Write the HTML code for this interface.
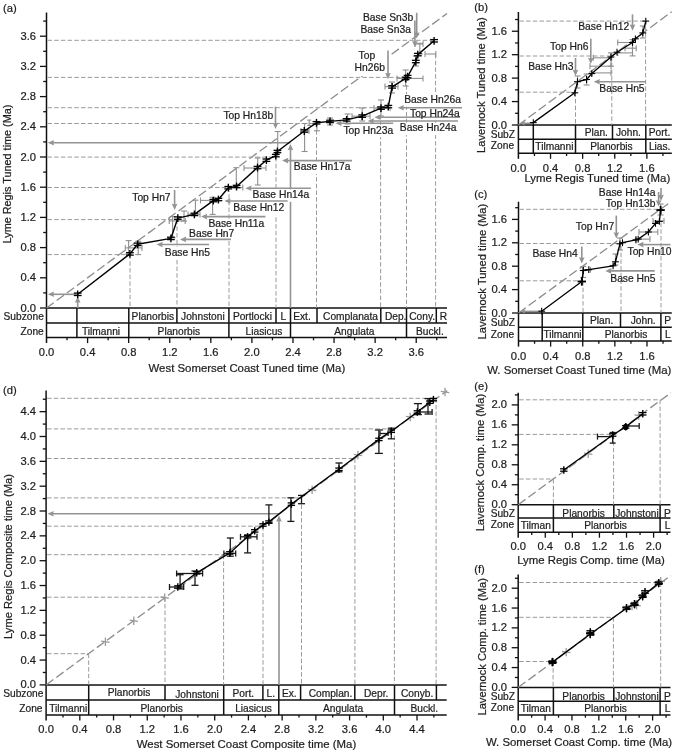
<!DOCTYPE html><html><head><meta charset="utf-8"><style>html,body{margin:0;padding:0;background:#fff;}svg{display:block;font-family:"Liberation Sans",sans-serif;filter:blur(0.3px);}</style></head><body>
<svg width="676" height="752" viewBox="0 0 676 752">
<rect width="676" height="752" fill="#fff"/>
<line x1="46.5" y1="12.4" x2="46.5" y2="343.1" stroke="#111" stroke-width="1.5"/>
<line x1="40" y1="308" x2="46.5" y2="308" stroke="#111" stroke-width="1.3"/>
<text x="36" y="311.5" font-size="11.2" text-anchor="end" fill="#1e1e1e" stroke="#1e1e1e" stroke-width="0.22">0.0</text>
<line x1="43.2" y1="292.9" x2="46.5" y2="292.9" stroke="#111" stroke-width="1.3"/>
<line x1="40" y1="277.8" x2="46.5" y2="277.8" stroke="#111" stroke-width="1.3"/>
<text x="36" y="281.3" font-size="11.2" text-anchor="end" fill="#1e1e1e" stroke="#1e1e1e" stroke-width="0.22">0.4</text>
<line x1="43.2" y1="262.7" x2="46.5" y2="262.7" stroke="#111" stroke-width="1.3"/>
<line x1="40" y1="247.6" x2="46.5" y2="247.6" stroke="#111" stroke-width="1.3"/>
<text x="36" y="251.1" font-size="11.2" text-anchor="end" fill="#1e1e1e" stroke="#1e1e1e" stroke-width="0.22">0.8</text>
<line x1="43.2" y1="232.5" x2="46.5" y2="232.5" stroke="#111" stroke-width="1.3"/>
<line x1="40" y1="217.4" x2="46.5" y2="217.4" stroke="#111" stroke-width="1.3"/>
<text x="36" y="220.9" font-size="11.2" text-anchor="end" fill="#1e1e1e" stroke="#1e1e1e" stroke-width="0.22">1.2</text>
<line x1="43.2" y1="202.3" x2="46.5" y2="202.3" stroke="#111" stroke-width="1.3"/>
<line x1="40" y1="187.2" x2="46.5" y2="187.2" stroke="#111" stroke-width="1.3"/>
<text x="36" y="190.7" font-size="11.2" text-anchor="end" fill="#1e1e1e" stroke="#1e1e1e" stroke-width="0.22">1.6</text>
<line x1="43.2" y1="172.1" x2="46.5" y2="172.1" stroke="#111" stroke-width="1.3"/>
<line x1="40" y1="157" x2="46.5" y2="157" stroke="#111" stroke-width="1.3"/>
<text x="36" y="160.5" font-size="11.2" text-anchor="end" fill="#1e1e1e" stroke="#1e1e1e" stroke-width="0.22">2.0</text>
<line x1="43.2" y1="141.9" x2="46.5" y2="141.9" stroke="#111" stroke-width="1.3"/>
<line x1="40" y1="126.8" x2="46.5" y2="126.8" stroke="#111" stroke-width="1.3"/>
<text x="36" y="130.3" font-size="11.2" text-anchor="end" fill="#1e1e1e" stroke="#1e1e1e" stroke-width="0.22">2.4</text>
<line x1="43.2" y1="111.7" x2="46.5" y2="111.7" stroke="#111" stroke-width="1.3"/>
<line x1="40" y1="96.6" x2="46.5" y2="96.6" stroke="#111" stroke-width="1.3"/>
<text x="36" y="100.1" font-size="11.2" text-anchor="end" fill="#1e1e1e" stroke="#1e1e1e" stroke-width="0.22">2.8</text>
<line x1="43.2" y1="81.5" x2="46.5" y2="81.5" stroke="#111" stroke-width="1.3"/>
<line x1="40" y1="66.4" x2="46.5" y2="66.4" stroke="#111" stroke-width="1.3"/>
<text x="36" y="69.9" font-size="11.2" text-anchor="end" fill="#1e1e1e" stroke="#1e1e1e" stroke-width="0.22">3.2</text>
<line x1="43.2" y1="51.3" x2="46.5" y2="51.3" stroke="#111" stroke-width="1.3"/>
<line x1="40" y1="36.2" x2="46.5" y2="36.2" stroke="#111" stroke-width="1.3"/>
<text x="36" y="39.7" font-size="11.2" text-anchor="end" fill="#1e1e1e" stroke="#1e1e1e" stroke-width="0.22">3.6</text>
<line x1="43.2" y1="21.1" x2="46.5" y2="21.1" stroke="#111" stroke-width="1.3"/>
<line x1="46.5" y1="308" x2="447" y2="308" stroke="#111" stroke-width="1.5"/>
<line x1="46.5" y1="323" x2="447" y2="323" stroke="#111" stroke-width="1.5"/>
<line x1="46.5" y1="337.6" x2="447" y2="337.6" stroke="#111" stroke-width="1.5"/>
<line x1="76.9" y1="308" x2="76.9" y2="337.6" stroke="#111" stroke-width="1.5"/>
<line x1="128.8" y1="308" x2="128.8" y2="337.6" stroke="#111" stroke-width="1.5"/>
<line x1="176.9" y1="308" x2="176.9" y2="323" stroke="#111" stroke-width="1.5"/>
<line x1="228.9" y1="308" x2="228.9" y2="337.6" stroke="#111" stroke-width="1.5"/>
<line x1="276" y1="308" x2="276" y2="323" stroke="#111" stroke-width="1.5"/>
<line x1="290.5" y1="308" x2="290.5" y2="337.6" stroke="#111" stroke-width="1.5"/>
<line x1="317" y1="308" x2="317" y2="323" stroke="#111" stroke-width="1.5"/>
<line x1="380.8" y1="308" x2="380.8" y2="323" stroke="#111" stroke-width="1.5"/>
<line x1="406.5" y1="308" x2="406.5" y2="337.6" stroke="#111" stroke-width="1.5"/>
<line x1="436.3" y1="308" x2="436.3" y2="323" stroke="#111" stroke-width="1.5"/>
<text x="46.5" y="355.9" font-size="11.2" text-anchor="middle" fill="#1e1e1e" stroke="#1e1e1e" stroke-width="0.22">0.0</text>
<line x1="67.04" y1="337.6" x2="67.04" y2="340.3" stroke="#111" stroke-width="1.3"/>
<line x1="87.58" y1="337.6" x2="87.58" y2="343.1" stroke="#111" stroke-width="1.3"/>
<text x="87.58" y="355.9" font-size="11.2" text-anchor="middle" fill="#1e1e1e" stroke="#1e1e1e" stroke-width="0.22">0.4</text>
<line x1="108.12" y1="337.6" x2="108.12" y2="340.3" stroke="#111" stroke-width="1.3"/>
<line x1="128.66" y1="337.6" x2="128.66" y2="343.1" stroke="#111" stroke-width="1.3"/>
<text x="128.66" y="355.9" font-size="11.2" text-anchor="middle" fill="#1e1e1e" stroke="#1e1e1e" stroke-width="0.22">0.8</text>
<line x1="149.2" y1="337.6" x2="149.2" y2="340.3" stroke="#111" stroke-width="1.3"/>
<line x1="169.74" y1="337.6" x2="169.74" y2="343.1" stroke="#111" stroke-width="1.3"/>
<text x="169.74" y="355.9" font-size="11.2" text-anchor="middle" fill="#1e1e1e" stroke="#1e1e1e" stroke-width="0.22">1.2</text>
<line x1="190.28" y1="337.6" x2="190.28" y2="340.3" stroke="#111" stroke-width="1.3"/>
<line x1="210.82" y1="337.6" x2="210.82" y2="343.1" stroke="#111" stroke-width="1.3"/>
<text x="210.82" y="355.9" font-size="11.2" text-anchor="middle" fill="#1e1e1e" stroke="#1e1e1e" stroke-width="0.22">1.6</text>
<line x1="231.36" y1="337.6" x2="231.36" y2="340.3" stroke="#111" stroke-width="1.3"/>
<line x1="251.9" y1="337.6" x2="251.9" y2="343.1" stroke="#111" stroke-width="1.3"/>
<text x="251.9" y="355.9" font-size="11.2" text-anchor="middle" fill="#1e1e1e" stroke="#1e1e1e" stroke-width="0.22">2.0</text>
<line x1="272.44" y1="337.6" x2="272.44" y2="340.3" stroke="#111" stroke-width="1.3"/>
<line x1="292.98" y1="337.6" x2="292.98" y2="343.1" stroke="#111" stroke-width="1.3"/>
<text x="292.98" y="355.9" font-size="11.2" text-anchor="middle" fill="#1e1e1e" stroke="#1e1e1e" stroke-width="0.22">2.4</text>
<line x1="313.52" y1="337.6" x2="313.52" y2="340.3" stroke="#111" stroke-width="1.3"/>
<line x1="334.06" y1="337.6" x2="334.06" y2="343.1" stroke="#111" stroke-width="1.3"/>
<text x="334.06" y="355.9" font-size="11.2" text-anchor="middle" fill="#1e1e1e" stroke="#1e1e1e" stroke-width="0.22">2.8</text>
<line x1="354.6" y1="337.6" x2="354.6" y2="340.3" stroke="#111" stroke-width="1.3"/>
<line x1="375.14" y1="337.6" x2="375.14" y2="343.1" stroke="#111" stroke-width="1.3"/>
<text x="375.14" y="355.9" font-size="11.2" text-anchor="middle" fill="#1e1e1e" stroke="#1e1e1e" stroke-width="0.22">3.2</text>
<line x1="395.68" y1="337.6" x2="395.68" y2="340.3" stroke="#111" stroke-width="1.3"/>
<line x1="416.22" y1="337.6" x2="416.22" y2="343.1" stroke="#111" stroke-width="1.3"/>
<text x="416.22" y="355.9" font-size="11.2" text-anchor="middle" fill="#1e1e1e" stroke="#1e1e1e" stroke-width="0.22">3.6</text>
<line x1="436.76" y1="337.6" x2="436.76" y2="340.3" stroke="#111" stroke-width="1.3"/>
<text x="43.8" y="320.4" font-size="10.2" text-anchor="end" fill="#1e1e1e" stroke="#1e1e1e" stroke-width="0.22">Subzone</text>
<text x="43.8" y="334.7" font-size="10.2" text-anchor="end" fill="#1e1e1e" stroke="#1e1e1e" stroke-width="0.22">Zone</text>
<text x="152.85" y="319.8" font-size="10.2" text-anchor="middle" fill="#1e1e1e" stroke="#1e1e1e" stroke-width="0.22">Planorbis</text>
<text x="202.9" y="319.8" font-size="10.2" text-anchor="middle" fill="#1e1e1e" stroke="#1e1e1e" stroke-width="0.22">Johnstoni</text>
<text x="252.45" y="319.8" font-size="10.2" text-anchor="middle" fill="#1e1e1e" stroke="#1e1e1e" stroke-width="0.22">Portlocki</text>
<text x="283.25" y="319.8" font-size="10.2" text-anchor="middle" fill="#1e1e1e" stroke="#1e1e1e" stroke-width="0.22">L</text>
<text x="301.95" y="319.8" font-size="10.2" text-anchor="middle" fill="#1e1e1e" stroke="#1e1e1e" stroke-width="0.22">Ext.</text>
<text x="350.5" y="319.8" font-size="10.2" text-anchor="middle" fill="#1e1e1e" stroke="#1e1e1e" stroke-width="0.22">Complanata</text>
<text x="395.65" y="319.8" font-size="10.2" text-anchor="middle" fill="#1e1e1e" stroke="#1e1e1e" stroke-width="0.22">Dep.</text>
<text x="422.2" y="319.8" font-size="10.2" text-anchor="middle" fill="#1e1e1e" stroke="#1e1e1e" stroke-width="0.22">Cony.</text>
<text x="443.45" y="319.8" font-size="10.2" text-anchor="middle" fill="#1e1e1e" stroke="#1e1e1e" stroke-width="0.22">R</text>
<text x="101.05" y="334.5" font-size="10.2" text-anchor="middle" fill="#1e1e1e" stroke="#1e1e1e" stroke-width="0.22">Tilmanni</text>
<text x="178.85" y="334.5" font-size="10.2" text-anchor="middle" fill="#1e1e1e" stroke="#1e1e1e" stroke-width="0.22">Planorbis</text>
<text x="264" y="334.5" font-size="10.2" text-anchor="middle" fill="#1e1e1e" stroke="#1e1e1e" stroke-width="0.22">Liasicus</text>
<text x="354.3" y="334.5" font-size="10.2" text-anchor="middle" fill="#1e1e1e" stroke="#1e1e1e" stroke-width="0.22">Angulata</text>
<text x="429.85" y="334.5" font-size="10.2" text-anchor="middle" fill="#1e1e1e" stroke="#1e1e1e" stroke-width="0.22">Buckl.</text>
<text x="246.9" y="371.7" font-size="11.4" text-anchor="middle" fill="#1e1e1e" stroke="#1e1e1e" stroke-width="0.22">West Somerset Coast Tuned time (Ma)</text>
<text x="11.4" y="174" font-size="10.85" text-anchor="middle" fill="#1e1e1e" stroke="#1e1e1e" stroke-width="0.22" transform="rotate(-90 11.4 174)">Lyme Regis Tuned time (Ma)</text>
<text x="3" y="11.5" font-size="11.2" text-anchor="start" fill="#1e1e1e" stroke="#1e1e1e" stroke-width="0.22">(a)</text>
<line x1="46.1" y1="390.6" x2="46.1" y2="720.4" stroke="#111" stroke-width="1.5"/>
<line x1="39.6" y1="684.9" x2="46.1" y2="684.9" stroke="#111" stroke-width="1.3"/>
<text x="36" y="688.4" font-size="11.2" text-anchor="end" fill="#1e1e1e" stroke="#1e1e1e" stroke-width="0.22">0.0</text>
<line x1="42.8" y1="672.48" x2="46.1" y2="672.48" stroke="#111" stroke-width="1.3"/>
<line x1="39.6" y1="660.06" x2="46.1" y2="660.06" stroke="#111" stroke-width="1.3"/>
<text x="36" y="663.56" font-size="11.2" text-anchor="end" fill="#1e1e1e" stroke="#1e1e1e" stroke-width="0.22">0.4</text>
<line x1="42.8" y1="647.64" x2="46.1" y2="647.64" stroke="#111" stroke-width="1.3"/>
<line x1="39.6" y1="635.22" x2="46.1" y2="635.22" stroke="#111" stroke-width="1.3"/>
<text x="36" y="638.72" font-size="11.2" text-anchor="end" fill="#1e1e1e" stroke="#1e1e1e" stroke-width="0.22">0.8</text>
<line x1="42.8" y1="622.8" x2="46.1" y2="622.8" stroke="#111" stroke-width="1.3"/>
<line x1="39.6" y1="610.38" x2="46.1" y2="610.38" stroke="#111" stroke-width="1.3"/>
<text x="36" y="613.88" font-size="11.2" text-anchor="end" fill="#1e1e1e" stroke="#1e1e1e" stroke-width="0.22">1.2</text>
<line x1="42.8" y1="597.96" x2="46.1" y2="597.96" stroke="#111" stroke-width="1.3"/>
<line x1="39.6" y1="585.54" x2="46.1" y2="585.54" stroke="#111" stroke-width="1.3"/>
<text x="36" y="589.04" font-size="11.2" text-anchor="end" fill="#1e1e1e" stroke="#1e1e1e" stroke-width="0.22">1.6</text>
<line x1="42.8" y1="573.12" x2="46.1" y2="573.12" stroke="#111" stroke-width="1.3"/>
<line x1="39.6" y1="560.7" x2="46.1" y2="560.7" stroke="#111" stroke-width="1.3"/>
<text x="36" y="564.2" font-size="11.2" text-anchor="end" fill="#1e1e1e" stroke="#1e1e1e" stroke-width="0.22">2.0</text>
<line x1="42.8" y1="548.28" x2="46.1" y2="548.28" stroke="#111" stroke-width="1.3"/>
<line x1="39.6" y1="535.86" x2="46.1" y2="535.86" stroke="#111" stroke-width="1.3"/>
<text x="36" y="539.36" font-size="11.2" text-anchor="end" fill="#1e1e1e" stroke="#1e1e1e" stroke-width="0.22">2.4</text>
<line x1="42.8" y1="523.44" x2="46.1" y2="523.44" stroke="#111" stroke-width="1.3"/>
<line x1="39.6" y1="511.02" x2="46.1" y2="511.02" stroke="#111" stroke-width="1.3"/>
<text x="36" y="514.52" font-size="11.2" text-anchor="end" fill="#1e1e1e" stroke="#1e1e1e" stroke-width="0.22">2.8</text>
<line x1="42.8" y1="498.6" x2="46.1" y2="498.6" stroke="#111" stroke-width="1.3"/>
<line x1="39.6" y1="486.18" x2="46.1" y2="486.18" stroke="#111" stroke-width="1.3"/>
<text x="36" y="489.68" font-size="11.2" text-anchor="end" fill="#1e1e1e" stroke="#1e1e1e" stroke-width="0.22">3.2</text>
<line x1="42.8" y1="473.76" x2="46.1" y2="473.76" stroke="#111" stroke-width="1.3"/>
<line x1="39.6" y1="461.34" x2="46.1" y2="461.34" stroke="#111" stroke-width="1.3"/>
<text x="36" y="464.84" font-size="11.2" text-anchor="end" fill="#1e1e1e" stroke="#1e1e1e" stroke-width="0.22">3.6</text>
<line x1="42.8" y1="448.92" x2="46.1" y2="448.92" stroke="#111" stroke-width="1.3"/>
<line x1="39.6" y1="436.5" x2="46.1" y2="436.5" stroke="#111" stroke-width="1.3"/>
<text x="36" y="440" font-size="11.2" text-anchor="end" fill="#1e1e1e" stroke="#1e1e1e" stroke-width="0.22">4.0</text>
<line x1="42.8" y1="424.08" x2="46.1" y2="424.08" stroke="#111" stroke-width="1.3"/>
<line x1="39.6" y1="411.66" x2="46.1" y2="411.66" stroke="#111" stroke-width="1.3"/>
<text x="36" y="415.16" font-size="11.2" text-anchor="end" fill="#1e1e1e" stroke="#1e1e1e" stroke-width="0.22">4.4</text>
<line x1="42.8" y1="399.24" x2="46.1" y2="399.24" stroke="#111" stroke-width="1.3"/>
<line x1="46.1" y1="684.9" x2="446.7" y2="684.9" stroke="#111" stroke-width="1.5"/>
<line x1="46.1" y1="700" x2="446.7" y2="700" stroke="#111" stroke-width="1.5"/>
<line x1="46.1" y1="714.9" x2="446.7" y2="714.9" stroke="#111" stroke-width="1.5"/>
<line x1="88.7" y1="684.9" x2="88.7" y2="714.9" stroke="#111" stroke-width="1.5"/>
<line x1="165" y1="684.9" x2="165" y2="700" stroke="#111" stroke-width="1.5"/>
<line x1="223.7" y1="684.9" x2="223.7" y2="714.9" stroke="#111" stroke-width="1.5"/>
<line x1="262.9" y1="684.9" x2="262.9" y2="700" stroke="#111" stroke-width="1.5"/>
<line x1="278.8" y1="684.9" x2="278.8" y2="714.9" stroke="#111" stroke-width="1.5"/>
<line x1="300.6" y1="684.9" x2="300.6" y2="700" stroke="#111" stroke-width="1.5"/>
<line x1="354.8" y1="684.9" x2="354.8" y2="700" stroke="#111" stroke-width="1.5"/>
<line x1="394.5" y1="684.9" x2="394.5" y2="714.9" stroke="#111" stroke-width="1.5"/>
<line x1="436.4" y1="684.9" x2="436.4" y2="700" stroke="#111" stroke-width="1.5"/>
<text x="46.1" y="733.1" font-size="11.2" text-anchor="middle" fill="#1e1e1e" stroke="#1e1e1e" stroke-width="0.22">0.0</text>
<line x1="62.96" y1="714.9" x2="62.96" y2="717.6" stroke="#111" stroke-width="1.3"/>
<line x1="79.82" y1="714.9" x2="79.82" y2="720.4" stroke="#111" stroke-width="1.3"/>
<text x="79.82" y="733.1" font-size="11.2" text-anchor="middle" fill="#1e1e1e" stroke="#1e1e1e" stroke-width="0.22">0.4</text>
<line x1="96.68" y1="714.9" x2="96.68" y2="717.6" stroke="#111" stroke-width="1.3"/>
<line x1="113.54" y1="714.9" x2="113.54" y2="720.4" stroke="#111" stroke-width="1.3"/>
<text x="113.54" y="733.1" font-size="11.2" text-anchor="middle" fill="#1e1e1e" stroke="#1e1e1e" stroke-width="0.22">0.8</text>
<line x1="130.4" y1="714.9" x2="130.4" y2="717.6" stroke="#111" stroke-width="1.3"/>
<line x1="147.26" y1="714.9" x2="147.26" y2="720.4" stroke="#111" stroke-width="1.3"/>
<text x="147.26" y="733.1" font-size="11.2" text-anchor="middle" fill="#1e1e1e" stroke="#1e1e1e" stroke-width="0.22">1.2</text>
<line x1="164.12" y1="714.9" x2="164.12" y2="717.6" stroke="#111" stroke-width="1.3"/>
<line x1="180.98" y1="714.9" x2="180.98" y2="720.4" stroke="#111" stroke-width="1.3"/>
<text x="180.98" y="733.1" font-size="11.2" text-anchor="middle" fill="#1e1e1e" stroke="#1e1e1e" stroke-width="0.22">1.6</text>
<line x1="197.84" y1="714.9" x2="197.84" y2="717.6" stroke="#111" stroke-width="1.3"/>
<line x1="214.7" y1="714.9" x2="214.7" y2="720.4" stroke="#111" stroke-width="1.3"/>
<text x="214.7" y="733.1" font-size="11.2" text-anchor="middle" fill="#1e1e1e" stroke="#1e1e1e" stroke-width="0.22">2.0</text>
<line x1="231.56" y1="714.9" x2="231.56" y2="717.6" stroke="#111" stroke-width="1.3"/>
<line x1="248.42" y1="714.9" x2="248.42" y2="720.4" stroke="#111" stroke-width="1.3"/>
<text x="248.42" y="733.1" font-size="11.2" text-anchor="middle" fill="#1e1e1e" stroke="#1e1e1e" stroke-width="0.22">2.4</text>
<line x1="265.28" y1="714.9" x2="265.28" y2="717.6" stroke="#111" stroke-width="1.3"/>
<line x1="282.14" y1="714.9" x2="282.14" y2="720.4" stroke="#111" stroke-width="1.3"/>
<text x="282.14" y="733.1" font-size="11.2" text-anchor="middle" fill="#1e1e1e" stroke="#1e1e1e" stroke-width="0.22">2.8</text>
<line x1="299" y1="714.9" x2="299" y2="717.6" stroke="#111" stroke-width="1.3"/>
<line x1="315.86" y1="714.9" x2="315.86" y2="720.4" stroke="#111" stroke-width="1.3"/>
<text x="315.86" y="733.1" font-size="11.2" text-anchor="middle" fill="#1e1e1e" stroke="#1e1e1e" stroke-width="0.22">3.2</text>
<line x1="332.72" y1="714.9" x2="332.72" y2="717.6" stroke="#111" stroke-width="1.3"/>
<line x1="349.58" y1="714.9" x2="349.58" y2="720.4" stroke="#111" stroke-width="1.3"/>
<text x="349.58" y="733.1" font-size="11.2" text-anchor="middle" fill="#1e1e1e" stroke="#1e1e1e" stroke-width="0.22">3.6</text>
<line x1="366.44" y1="714.9" x2="366.44" y2="717.6" stroke="#111" stroke-width="1.3"/>
<line x1="383.3" y1="714.9" x2="383.3" y2="720.4" stroke="#111" stroke-width="1.3"/>
<text x="383.3" y="733.1" font-size="11.2" text-anchor="middle" fill="#1e1e1e" stroke="#1e1e1e" stroke-width="0.22">4.0</text>
<line x1="400.16" y1="714.9" x2="400.16" y2="717.6" stroke="#111" stroke-width="1.3"/>
<line x1="417.02" y1="714.9" x2="417.02" y2="720.4" stroke="#111" stroke-width="1.3"/>
<text x="417.02" y="733.1" font-size="11.2" text-anchor="middle" fill="#1e1e1e" stroke="#1e1e1e" stroke-width="0.22">4.4</text>
<line x1="433.88" y1="714.9" x2="433.88" y2="717.6" stroke="#111" stroke-width="1.3"/>
<text x="43.4" y="697.35" font-size="10.2" text-anchor="end" fill="#1e1e1e" stroke="#1e1e1e" stroke-width="0.22">Subzone</text>
<text x="42.5" y="711.85" font-size="10.2" text-anchor="end" fill="#1e1e1e" stroke="#1e1e1e" stroke-width="0.22">Zone</text>
<text x="129.05" y="696.45" font-size="10.2" text-anchor="middle" fill="#1e1e1e" stroke="#1e1e1e" stroke-width="0.22">Planorbis</text>
<text x="197.05" y="698.15" font-size="10.2" text-anchor="middle" fill="#1e1e1e" stroke="#1e1e1e" stroke-width="0.22">Johnstoni</text>
<text x="243.3" y="696.75" font-size="10.2" text-anchor="middle" fill="#1e1e1e" stroke="#1e1e1e" stroke-width="0.22">Port.</text>
<text x="270.85" y="696.75" font-size="10.2" text-anchor="middle" fill="#1e1e1e" stroke="#1e1e1e" stroke-width="0.22">L.</text>
<text x="289.3" y="696.75" font-size="10.2" text-anchor="middle" fill="#1e1e1e" stroke="#1e1e1e" stroke-width="0.22">Ex.</text>
<text x="330.5" y="696.75" font-size="10.2" text-anchor="middle" fill="#1e1e1e" stroke="#1e1e1e" stroke-width="0.22">Complan.</text>
<text x="376.15" y="696.75" font-size="10.2" text-anchor="middle" fill="#1e1e1e" stroke="#1e1e1e" stroke-width="0.22">Depr.</text>
<text x="417.15" y="696.75" font-size="10.2" text-anchor="middle" fill="#1e1e1e" stroke="#1e1e1e" stroke-width="0.22">Conyb.</text>
<text x="68.2" y="711.65" font-size="10.2" text-anchor="middle" fill="#1e1e1e" stroke="#1e1e1e" stroke-width="0.22">Tilmanni</text>
<text x="161.7" y="711.65" font-size="10.2" text-anchor="middle" fill="#1e1e1e" stroke="#1e1e1e" stroke-width="0.22">Planorbis</text>
<text x="253.55" y="711.65" font-size="10.2" text-anchor="middle" fill="#1e1e1e" stroke="#1e1e1e" stroke-width="0.22">Liasicus</text>
<text x="343.15" y="711.65" font-size="10.2" text-anchor="middle" fill="#1e1e1e" stroke="#1e1e1e" stroke-width="0.22">Angulata</text>
<text x="424.3" y="711.65" font-size="10.2" text-anchor="middle" fill="#1e1e1e" stroke="#1e1e1e" stroke-width="0.22">Buckl.</text>
<text x="246.5" y="747.5" font-size="11.4" text-anchor="middle" fill="#1e1e1e" stroke="#1e1e1e" stroke-width="0.22">West Somerset Coast Composite time (Ma)</text>
<text x="12" y="556.5" font-size="11.15" text-anchor="middle" fill="#1e1e1e" stroke="#1e1e1e" stroke-width="0.22" transform="rotate(-90 12 556.5)">Lyme Regis Composite time (Ma)</text>
<text x="3" y="394.2" font-size="11.2" text-anchor="start" fill="#1e1e1e" stroke="#1e1e1e" stroke-width="0.22">(d)</text>
<line x1="518.4" y1="12" x2="518.4" y2="158.8" stroke="#111" stroke-width="1.5"/>
<line x1="511.9" y1="125" x2="518.4" y2="125" stroke="#111" stroke-width="1.3"/>
<text x="507" y="128.5" font-size="11.2" text-anchor="end" fill="#1e1e1e" stroke="#1e1e1e" stroke-width="0.22">0.0</text>
<line x1="515.1" y1="113.28" x2="518.4" y2="113.28" stroke="#111" stroke-width="1.3"/>
<line x1="511.9" y1="101.56" x2="518.4" y2="101.56" stroke="#111" stroke-width="1.3"/>
<text x="507" y="105.06" font-size="11.2" text-anchor="end" fill="#1e1e1e" stroke="#1e1e1e" stroke-width="0.22">0.4</text>
<line x1="515.1" y1="89.84" x2="518.4" y2="89.84" stroke="#111" stroke-width="1.3"/>
<line x1="511.9" y1="78.12" x2="518.4" y2="78.12" stroke="#111" stroke-width="1.3"/>
<text x="507" y="81.62" font-size="11.2" text-anchor="end" fill="#1e1e1e" stroke="#1e1e1e" stroke-width="0.22">0.8</text>
<line x1="515.1" y1="66.4" x2="518.4" y2="66.4" stroke="#111" stroke-width="1.3"/>
<line x1="511.9" y1="54.68" x2="518.4" y2="54.68" stroke="#111" stroke-width="1.3"/>
<text x="507" y="58.18" font-size="11.2" text-anchor="end" fill="#1e1e1e" stroke="#1e1e1e" stroke-width="0.22">1.2</text>
<line x1="515.1" y1="42.96" x2="518.4" y2="42.96" stroke="#111" stroke-width="1.3"/>
<line x1="511.9" y1="31.24" x2="518.4" y2="31.24" stroke="#111" stroke-width="1.3"/>
<text x="507" y="34.74" font-size="11.2" text-anchor="end" fill="#1e1e1e" stroke="#1e1e1e" stroke-width="0.22">1.6</text>
<line x1="515.1" y1="19.52" x2="518.4" y2="19.52" stroke="#111" stroke-width="1.3"/>
<line x1="518.4" y1="125" x2="671.8" y2="125" stroke="#111" stroke-width="1.5"/>
<line x1="518.4" y1="139.2" x2="671.8" y2="139.2" stroke="#111" stroke-width="1.5"/>
<line x1="518.4" y1="153.3" x2="671.8" y2="153.3" stroke="#111" stroke-width="1.5"/>
<line x1="533.3" y1="125" x2="533.3" y2="153.3" stroke="#111" stroke-width="1.5"/>
<line x1="575.5" y1="125" x2="575.5" y2="153.3" stroke="#111" stroke-width="1.5"/>
<line x1="612.5" y1="125" x2="612.5" y2="139.2" stroke="#111" stroke-width="1.5"/>
<line x1="645.8" y1="125" x2="645.8" y2="153.3" stroke="#111" stroke-width="1.5"/>
<text x="518.4" y="172" font-size="11.2" text-anchor="middle" fill="#1e1e1e" stroke="#1e1e1e" stroke-width="0.22">0.0</text>
<line x1="534.46" y1="153.3" x2="534.46" y2="156" stroke="#111" stroke-width="1.3"/>
<line x1="550.52" y1="153.3" x2="550.52" y2="158.8" stroke="#111" stroke-width="1.3"/>
<text x="550.52" y="172" font-size="11.2" text-anchor="middle" fill="#1e1e1e" stroke="#1e1e1e" stroke-width="0.22">0.4</text>
<line x1="566.58" y1="153.3" x2="566.58" y2="156" stroke="#111" stroke-width="1.3"/>
<line x1="582.64" y1="153.3" x2="582.64" y2="158.8" stroke="#111" stroke-width="1.3"/>
<text x="582.64" y="172" font-size="11.2" text-anchor="middle" fill="#1e1e1e" stroke="#1e1e1e" stroke-width="0.22">0.8</text>
<line x1="598.7" y1="153.3" x2="598.7" y2="156" stroke="#111" stroke-width="1.3"/>
<line x1="614.76" y1="153.3" x2="614.76" y2="158.8" stroke="#111" stroke-width="1.3"/>
<text x="614.76" y="172" font-size="11.2" text-anchor="middle" fill="#1e1e1e" stroke="#1e1e1e" stroke-width="0.22">1.2</text>
<line x1="630.82" y1="153.3" x2="630.82" y2="156" stroke="#111" stroke-width="1.3"/>
<line x1="646.88" y1="153.3" x2="646.88" y2="158.8" stroke="#111" stroke-width="1.3"/>
<text x="646.88" y="172" font-size="11.2" text-anchor="middle" fill="#1e1e1e" stroke="#1e1e1e" stroke-width="0.22">1.6</text>
<line x1="662.94" y1="153.3" x2="662.94" y2="156" stroke="#111" stroke-width="1.3"/>
<text x="515" y="137.5" font-size="10.2" text-anchor="end" fill="#1e1e1e" stroke="#1e1e1e" stroke-width="0.22">SubZ</text>
<text x="514.1" y="149.05" font-size="10.2" text-anchor="end" fill="#1e1e1e" stroke="#1e1e1e" stroke-width="0.22">Zone</text>
<text x="596.3" y="136.4" font-size="10.2" text-anchor="middle" fill="#1e1e1e" stroke="#1e1e1e" stroke-width="0.22">Plan.</text>
<text x="628.45" y="136.4" font-size="10.2" text-anchor="middle" fill="#1e1e1e" stroke="#1e1e1e" stroke-width="0.22">John.</text>
<text x="659.5" y="136.4" font-size="10.2" text-anchor="middle" fill="#1e1e1e" stroke="#1e1e1e" stroke-width="0.22">Port.</text>
<text x="554.4" y="150.45" font-size="10.2" text-anchor="middle" fill="#1e1e1e" stroke="#1e1e1e" stroke-width="0.22">Tilmanni</text>
<text x="611.45" y="150.45" font-size="10.2" text-anchor="middle" fill="#1e1e1e" stroke="#1e1e1e" stroke-width="0.22">Planorbis</text>
<text x="659.7" y="150.45" font-size="10.2" text-anchor="middle" fill="#1e1e1e" stroke="#1e1e1e" stroke-width="0.22">Lias.</text>
<text x="597.3" y="182.3" font-size="11.4" text-anchor="middle" fill="#1e1e1e" stroke="#1e1e1e" stroke-width="0.22">Lyme Regis Tuned time (Ma)</text>
<text x="485.3" y="85.1" font-size="11.15" text-anchor="middle" fill="#1e1e1e" stroke="#1e1e1e" stroke-width="0.22" transform="rotate(-90 485.3 85.1)">Lavernock Tuned time (Ma)</text>
<text x="474.2" y="10.5" font-size="11.2" text-anchor="start" fill="#1e1e1e" stroke="#1e1e1e" stroke-width="0.22">(b)</text>
<line x1="518.5" y1="201.7" x2="518.5" y2="346.6" stroke="#111" stroke-width="1.5"/>
<line x1="512" y1="313" x2="518.5" y2="313" stroke="#111" stroke-width="1.3"/>
<text x="507" y="316.5" font-size="11.2" text-anchor="end" fill="#1e1e1e" stroke="#1e1e1e" stroke-width="0.22">0.0</text>
<line x1="515.2" y1="301.3" x2="518.5" y2="301.3" stroke="#111" stroke-width="1.3"/>
<line x1="512" y1="289.6" x2="518.5" y2="289.6" stroke="#111" stroke-width="1.3"/>
<text x="507" y="293.1" font-size="11.2" text-anchor="end" fill="#1e1e1e" stroke="#1e1e1e" stroke-width="0.22">0.4</text>
<line x1="515.2" y1="277.9" x2="518.5" y2="277.9" stroke="#111" stroke-width="1.3"/>
<line x1="512" y1="266.2" x2="518.5" y2="266.2" stroke="#111" stroke-width="1.3"/>
<text x="507" y="269.7" font-size="11.2" text-anchor="end" fill="#1e1e1e" stroke="#1e1e1e" stroke-width="0.22">0.8</text>
<line x1="515.2" y1="254.5" x2="518.5" y2="254.5" stroke="#111" stroke-width="1.3"/>
<line x1="512" y1="242.8" x2="518.5" y2="242.8" stroke="#111" stroke-width="1.3"/>
<text x="507" y="246.3" font-size="11.2" text-anchor="end" fill="#1e1e1e" stroke="#1e1e1e" stroke-width="0.22">1.2</text>
<line x1="515.2" y1="231.1" x2="518.5" y2="231.1" stroke="#111" stroke-width="1.3"/>
<line x1="512" y1="219.4" x2="518.5" y2="219.4" stroke="#111" stroke-width="1.3"/>
<text x="507" y="222.9" font-size="11.2" text-anchor="end" fill="#1e1e1e" stroke="#1e1e1e" stroke-width="0.22">1.6</text>
<line x1="515.2" y1="207.7" x2="518.5" y2="207.7" stroke="#111" stroke-width="1.3"/>
<line x1="518.5" y1="313" x2="671.8" y2="313" stroke="#111" stroke-width="1.5"/>
<line x1="518.5" y1="327.3" x2="671.8" y2="327.3" stroke="#111" stroke-width="1.5"/>
<line x1="518.5" y1="341.1" x2="671.8" y2="341.1" stroke="#111" stroke-width="1.5"/>
<line x1="542.2" y1="313" x2="542.2" y2="341.1" stroke="#111" stroke-width="1.5"/>
<line x1="582.8" y1="313" x2="582.8" y2="341.1" stroke="#111" stroke-width="1.5"/>
<line x1="620.5" y1="313" x2="620.5" y2="327.3" stroke="#111" stroke-width="1.5"/>
<line x1="660.9" y1="313" x2="660.9" y2="341.1" stroke="#111" stroke-width="1.5"/>
<text x="518.5" y="359.6" font-size="11.2" text-anchor="middle" fill="#1e1e1e" stroke="#1e1e1e" stroke-width="0.22">0.0</text>
<line x1="534.56" y1="341.1" x2="534.56" y2="343.8" stroke="#111" stroke-width="1.3"/>
<line x1="550.62" y1="341.1" x2="550.62" y2="346.6" stroke="#111" stroke-width="1.3"/>
<text x="550.62" y="359.6" font-size="11.2" text-anchor="middle" fill="#1e1e1e" stroke="#1e1e1e" stroke-width="0.22">0.4</text>
<line x1="566.68" y1="341.1" x2="566.68" y2="343.8" stroke="#111" stroke-width="1.3"/>
<line x1="582.74" y1="341.1" x2="582.74" y2="346.6" stroke="#111" stroke-width="1.3"/>
<text x="582.74" y="359.6" font-size="11.2" text-anchor="middle" fill="#1e1e1e" stroke="#1e1e1e" stroke-width="0.22">0.8</text>
<line x1="598.8" y1="341.1" x2="598.8" y2="343.8" stroke="#111" stroke-width="1.3"/>
<line x1="614.86" y1="341.1" x2="614.86" y2="346.6" stroke="#111" stroke-width="1.3"/>
<text x="614.86" y="359.6" font-size="11.2" text-anchor="middle" fill="#1e1e1e" stroke="#1e1e1e" stroke-width="0.22">1.2</text>
<line x1="630.92" y1="341.1" x2="630.92" y2="343.8" stroke="#111" stroke-width="1.3"/>
<line x1="646.98" y1="341.1" x2="646.98" y2="346.6" stroke="#111" stroke-width="1.3"/>
<text x="646.98" y="359.6" font-size="11.2" text-anchor="middle" fill="#1e1e1e" stroke="#1e1e1e" stroke-width="0.22">1.6</text>
<line x1="663.04" y1="341.1" x2="663.04" y2="343.8" stroke="#111" stroke-width="1.3"/>
<text x="515" y="325.55" font-size="10.2" text-anchor="end" fill="#1e1e1e" stroke="#1e1e1e" stroke-width="0.22">SubZ</text>
<text x="514.1" y="338.2" font-size="10.2" text-anchor="end" fill="#1e1e1e" stroke="#1e1e1e" stroke-width="0.22">Zone</text>
<text x="601.65" y="324.45" font-size="10.2" text-anchor="middle" fill="#1e1e1e" stroke="#1e1e1e" stroke-width="0.22">Plan.</text>
<text x="643.2" y="324.45" font-size="10.2" text-anchor="middle" fill="#1e1e1e" stroke="#1e1e1e" stroke-width="0.22">John.</text>
<text x="667.65" y="324.45" font-size="10.2" text-anchor="middle" fill="#1e1e1e" stroke="#1e1e1e" stroke-width="0.22">P</text>
<text x="562.5" y="338.4" font-size="10.2" text-anchor="middle" fill="#1e1e1e" stroke="#1e1e1e" stroke-width="0.22">Tilmanni</text>
<text x="626.05" y="338.4" font-size="10.2" text-anchor="middle" fill="#1e1e1e" stroke="#1e1e1e" stroke-width="0.22">Planorbis</text>
<text x="667.95" y="338.4" font-size="10.2" text-anchor="middle" fill="#1e1e1e" stroke="#1e1e1e" stroke-width="0.22">L</text>
<text x="579.3" y="373.8" font-size="11.4" text-anchor="middle" fill="#1e1e1e" stroke="#1e1e1e" stroke-width="0.22">W. Somerset Coast Tuned time (Ma)</text>
<text x="485.7" y="271.7" font-size="11.15" text-anchor="middle" fill="#1e1e1e" stroke="#1e1e1e" stroke-width="0.22" transform="rotate(-90 485.7 271.7)">Lavernock Tuned time (Ma)</text>
<text x="474.2" y="198" font-size="11.2" text-anchor="start" fill="#1e1e1e" stroke="#1e1e1e" stroke-width="0.22">(c)</text>
<line x1="518.2" y1="392.8" x2="518.2" y2="537.7" stroke="#111" stroke-width="1.5"/>
<line x1="511.7" y1="504.7" x2="518.2" y2="504.7" stroke="#111" stroke-width="1.3"/>
<text x="507" y="508.2" font-size="11.2" text-anchor="end" fill="#1e1e1e" stroke="#1e1e1e" stroke-width="0.22">0.0</text>
<line x1="514.9" y1="494.72" x2="518.2" y2="494.72" stroke="#111" stroke-width="1.3"/>
<line x1="511.7" y1="484.74" x2="518.2" y2="484.74" stroke="#111" stroke-width="1.3"/>
<text x="507" y="488.24" font-size="11.2" text-anchor="end" fill="#1e1e1e" stroke="#1e1e1e" stroke-width="0.22">0.4</text>
<line x1="514.9" y1="474.76" x2="518.2" y2="474.76" stroke="#111" stroke-width="1.3"/>
<line x1="511.7" y1="464.78" x2="518.2" y2="464.78" stroke="#111" stroke-width="1.3"/>
<text x="507" y="468.28" font-size="11.2" text-anchor="end" fill="#1e1e1e" stroke="#1e1e1e" stroke-width="0.22">0.8</text>
<line x1="514.9" y1="454.8" x2="518.2" y2="454.8" stroke="#111" stroke-width="1.3"/>
<line x1="511.7" y1="444.82" x2="518.2" y2="444.82" stroke="#111" stroke-width="1.3"/>
<text x="507" y="448.32" font-size="11.2" text-anchor="end" fill="#1e1e1e" stroke="#1e1e1e" stroke-width="0.22">1.2</text>
<line x1="514.9" y1="434.84" x2="518.2" y2="434.84" stroke="#111" stroke-width="1.3"/>
<line x1="511.7" y1="424.86" x2="518.2" y2="424.86" stroke="#111" stroke-width="1.3"/>
<text x="507" y="428.36" font-size="11.2" text-anchor="end" fill="#1e1e1e" stroke="#1e1e1e" stroke-width="0.22">1.6</text>
<line x1="514.9" y1="414.88" x2="518.2" y2="414.88" stroke="#111" stroke-width="1.3"/>
<line x1="511.7" y1="404.9" x2="518.2" y2="404.9" stroke="#111" stroke-width="1.3"/>
<text x="507" y="408.4" font-size="11.2" text-anchor="end" fill="#1e1e1e" stroke="#1e1e1e" stroke-width="0.22">2.0</text>
<line x1="514.9" y1="394.92" x2="518.2" y2="394.92" stroke="#111" stroke-width="1.3"/>
<line x1="518.2" y1="504.8" x2="670.5" y2="504.8" stroke="#111" stroke-width="1.5"/>
<line x1="518.2" y1="518.1" x2="670.5" y2="518.1" stroke="#111" stroke-width="1.5"/>
<line x1="518.2" y1="532.2" x2="670.5" y2="532.2" stroke="#111" stroke-width="1.5"/>
<line x1="553.4" y1="504.8" x2="553.4" y2="532.2" stroke="#111" stroke-width="1.5"/>
<line x1="613.8" y1="504.8" x2="613.8" y2="518.1" stroke="#111" stroke-width="1.5"/>
<line x1="660.1" y1="504.8" x2="660.1" y2="532.2" stroke="#111" stroke-width="1.5"/>
<text x="518.2" y="550.1" font-size="11.2" text-anchor="middle" fill="#1e1e1e" stroke="#1e1e1e" stroke-width="0.22">0.0</text>
<line x1="531.74" y1="532.2" x2="531.74" y2="534.9" stroke="#111" stroke-width="1.3"/>
<line x1="545.28" y1="532.2" x2="545.28" y2="537.7" stroke="#111" stroke-width="1.3"/>
<text x="545.28" y="550.1" font-size="11.2" text-anchor="middle" fill="#1e1e1e" stroke="#1e1e1e" stroke-width="0.22">0.4</text>
<line x1="558.82" y1="532.2" x2="558.82" y2="534.9" stroke="#111" stroke-width="1.3"/>
<line x1="572.36" y1="532.2" x2="572.36" y2="537.7" stroke="#111" stroke-width="1.3"/>
<text x="572.36" y="550.1" font-size="11.2" text-anchor="middle" fill="#1e1e1e" stroke="#1e1e1e" stroke-width="0.22">0.8</text>
<line x1="585.9" y1="532.2" x2="585.9" y2="534.9" stroke="#111" stroke-width="1.3"/>
<line x1="599.44" y1="532.2" x2="599.44" y2="537.7" stroke="#111" stroke-width="1.3"/>
<text x="599.44" y="550.1" font-size="11.2" text-anchor="middle" fill="#1e1e1e" stroke="#1e1e1e" stroke-width="0.22">1.2</text>
<line x1="612.98" y1="532.2" x2="612.98" y2="534.9" stroke="#111" stroke-width="1.3"/>
<line x1="626.52" y1="532.2" x2="626.52" y2="537.7" stroke="#111" stroke-width="1.3"/>
<text x="626.52" y="550.1" font-size="11.2" text-anchor="middle" fill="#1e1e1e" stroke="#1e1e1e" stroke-width="0.22">1.6</text>
<line x1="640.06" y1="532.2" x2="640.06" y2="534.9" stroke="#111" stroke-width="1.3"/>
<line x1="653.6" y1="532.2" x2="653.6" y2="537.7" stroke="#111" stroke-width="1.3"/>
<text x="653.6" y="550.1" font-size="11.2" text-anchor="middle" fill="#1e1e1e" stroke="#1e1e1e" stroke-width="0.22">2.0</text>
<line x1="667.14" y1="532.2" x2="667.14" y2="534.9" stroke="#111" stroke-width="1.3"/>
<text x="515" y="516.85" font-size="10.2" text-anchor="end" fill="#1e1e1e" stroke="#1e1e1e" stroke-width="0.22">SubZ</text>
<text x="514.1" y="528.45" font-size="10.2" text-anchor="end" fill="#1e1e1e" stroke="#1e1e1e" stroke-width="0.22">Zone</text>
<text x="583.6" y="516.65" font-size="10.2" text-anchor="middle" fill="#1e1e1e" stroke="#1e1e1e" stroke-width="0.22">Planorbis</text>
<text x="636.95" y="516.65" font-size="10.2" text-anchor="middle" fill="#1e1e1e" stroke="#1e1e1e" stroke-width="0.22">Johnstoni</text>
<text x="667.5" y="516.65" font-size="10.2" text-anchor="middle" fill="#1e1e1e" stroke="#1e1e1e" stroke-width="0.22">P</text>
<text x="535.8" y="529.35" font-size="10.2" text-anchor="middle" fill="#1e1e1e" stroke="#1e1e1e" stroke-width="0.22">Tilman</text>
<text x="605.55" y="529.35" font-size="10.2" text-anchor="middle" fill="#1e1e1e" stroke="#1e1e1e" stroke-width="0.22">Planorbis</text>
<text x="667.5" y="529.35" font-size="10.2" text-anchor="middle" fill="#1e1e1e" stroke="#1e1e1e" stroke-width="0.22">L</text>
<text x="591" y="563.8" font-size="11.4" text-anchor="middle" fill="#1e1e1e" stroke="#1e1e1e" stroke-width="0.22">Lyme Regis Comp. time (Ma)</text>
<text x="484.4" y="462.6" font-size="11.15" text-anchor="middle" fill="#1e1e1e" stroke="#1e1e1e" stroke-width="0.22" transform="rotate(-90 484.4 462.6)">Lavernock Comp. time (Ma)</text>
<text x="474.2" y="390" font-size="11.2" text-anchor="start" fill="#1e1e1e" stroke="#1e1e1e" stroke-width="0.22">(e)</text>
<line x1="518.2" y1="574.4" x2="518.2" y2="720.5" stroke="#111" stroke-width="1.5"/>
<line x1="511.7" y1="687.4" x2="518.2" y2="687.4" stroke="#111" stroke-width="1.3"/>
<text x="507" y="690.9" font-size="11.2" text-anchor="end" fill="#1e1e1e" stroke="#1e1e1e" stroke-width="0.22">0.0</text>
<line x1="514.9" y1="677.48" x2="518.2" y2="677.48" stroke="#111" stroke-width="1.3"/>
<line x1="511.7" y1="667.56" x2="518.2" y2="667.56" stroke="#111" stroke-width="1.3"/>
<text x="507" y="671.06" font-size="11.2" text-anchor="end" fill="#1e1e1e" stroke="#1e1e1e" stroke-width="0.22">0.4</text>
<line x1="514.9" y1="657.64" x2="518.2" y2="657.64" stroke="#111" stroke-width="1.3"/>
<line x1="511.7" y1="647.72" x2="518.2" y2="647.72" stroke="#111" stroke-width="1.3"/>
<text x="507" y="651.22" font-size="11.2" text-anchor="end" fill="#1e1e1e" stroke="#1e1e1e" stroke-width="0.22">0.8</text>
<line x1="514.9" y1="637.8" x2="518.2" y2="637.8" stroke="#111" stroke-width="1.3"/>
<line x1="511.7" y1="627.88" x2="518.2" y2="627.88" stroke="#111" stroke-width="1.3"/>
<text x="507" y="631.38" font-size="11.2" text-anchor="end" fill="#1e1e1e" stroke="#1e1e1e" stroke-width="0.22">1.2</text>
<line x1="514.9" y1="617.96" x2="518.2" y2="617.96" stroke="#111" stroke-width="1.3"/>
<line x1="511.7" y1="608.04" x2="518.2" y2="608.04" stroke="#111" stroke-width="1.3"/>
<text x="507" y="611.54" font-size="11.2" text-anchor="end" fill="#1e1e1e" stroke="#1e1e1e" stroke-width="0.22">1.6</text>
<line x1="514.9" y1="598.12" x2="518.2" y2="598.12" stroke="#111" stroke-width="1.3"/>
<line x1="511.7" y1="588.2" x2="518.2" y2="588.2" stroke="#111" stroke-width="1.3"/>
<text x="507" y="591.7" font-size="11.2" text-anchor="end" fill="#1e1e1e" stroke="#1e1e1e" stroke-width="0.22">2.0</text>
<line x1="514.9" y1="578.28" x2="518.2" y2="578.28" stroke="#111" stroke-width="1.3"/>
<line x1="518.2" y1="687.6" x2="670.5" y2="687.6" stroke="#111" stroke-width="1.5"/>
<line x1="518.2" y1="701.2" x2="670.5" y2="701.2" stroke="#111" stroke-width="1.5"/>
<line x1="518.2" y1="715" x2="670.5" y2="715" stroke="#111" stroke-width="1.5"/>
<line x1="553.4" y1="687.6" x2="553.4" y2="715" stroke="#111" stroke-width="1.5"/>
<line x1="613.8" y1="687.6" x2="613.8" y2="701.2" stroke="#111" stroke-width="1.5"/>
<line x1="660.1" y1="687.6" x2="660.1" y2="715" stroke="#111" stroke-width="1.5"/>
<text x="518.2" y="732.9" font-size="11.2" text-anchor="middle" fill="#1e1e1e" stroke="#1e1e1e" stroke-width="0.22">0.0</text>
<line x1="531.64" y1="715" x2="531.64" y2="717.7" stroke="#111" stroke-width="1.3"/>
<line x1="545.08" y1="715" x2="545.08" y2="720.5" stroke="#111" stroke-width="1.3"/>
<text x="545.08" y="732.9" font-size="11.2" text-anchor="middle" fill="#1e1e1e" stroke="#1e1e1e" stroke-width="0.22">0.4</text>
<line x1="558.52" y1="715" x2="558.52" y2="717.7" stroke="#111" stroke-width="1.3"/>
<line x1="571.96" y1="715" x2="571.96" y2="720.5" stroke="#111" stroke-width="1.3"/>
<text x="571.96" y="732.9" font-size="11.2" text-anchor="middle" fill="#1e1e1e" stroke="#1e1e1e" stroke-width="0.22">0.8</text>
<line x1="585.4" y1="715" x2="585.4" y2="717.7" stroke="#111" stroke-width="1.3"/>
<line x1="598.84" y1="715" x2="598.84" y2="720.5" stroke="#111" stroke-width="1.3"/>
<text x="598.84" y="732.9" font-size="11.2" text-anchor="middle" fill="#1e1e1e" stroke="#1e1e1e" stroke-width="0.22">1.2</text>
<line x1="612.28" y1="715" x2="612.28" y2="717.7" stroke="#111" stroke-width="1.3"/>
<line x1="625.72" y1="715" x2="625.72" y2="720.5" stroke="#111" stroke-width="1.3"/>
<text x="625.72" y="732.9" font-size="11.2" text-anchor="middle" fill="#1e1e1e" stroke="#1e1e1e" stroke-width="0.22">1.6</text>
<line x1="639.16" y1="715" x2="639.16" y2="717.7" stroke="#111" stroke-width="1.3"/>
<line x1="652.6" y1="715" x2="652.6" y2="720.5" stroke="#111" stroke-width="1.3"/>
<text x="652.6" y="732.9" font-size="11.2" text-anchor="middle" fill="#1e1e1e" stroke="#1e1e1e" stroke-width="0.22">2.0</text>
<line x1="666.04" y1="715" x2="666.04" y2="717.7" stroke="#111" stroke-width="1.3"/>
<text x="515" y="699.8" font-size="10.2" text-anchor="end" fill="#1e1e1e" stroke="#1e1e1e" stroke-width="0.22">SubZ</text>
<text x="514.1" y="711.4" font-size="10.2" text-anchor="end" fill="#1e1e1e" stroke="#1e1e1e" stroke-width="0.22">Zone</text>
<text x="583.6" y="699.6" font-size="10.2" text-anchor="middle" fill="#1e1e1e" stroke="#1e1e1e" stroke-width="0.22">Planorbis</text>
<text x="636.95" y="699.6" font-size="10.2" text-anchor="middle" fill="#1e1e1e" stroke="#1e1e1e" stroke-width="0.22">Johnstoni</text>
<text x="667.5" y="699.6" font-size="10.2" text-anchor="middle" fill="#1e1e1e" stroke="#1e1e1e" stroke-width="0.22">P</text>
<text x="535.8" y="712.3" font-size="10.2" text-anchor="middle" fill="#1e1e1e" stroke="#1e1e1e" stroke-width="0.22">Tilman</text>
<text x="605.55" y="712.3" font-size="10.2" text-anchor="middle" fill="#1e1e1e" stroke="#1e1e1e" stroke-width="0.22">Planorbis</text>
<text x="667.5" y="712.3" font-size="10.2" text-anchor="middle" fill="#1e1e1e" stroke="#1e1e1e" stroke-width="0.22">L</text>
<text x="579" y="746.3" font-size="11.4" text-anchor="middle" fill="#1e1e1e" stroke="#1e1e1e" stroke-width="0.22">W. Somerset Coast Comp. time (Ma)</text>
<text x="485.7" y="646.8" font-size="11.15" text-anchor="middle" fill="#1e1e1e" stroke="#1e1e1e" stroke-width="0.22" transform="rotate(-90 485.7 646.8)">Lavernock Comp. time (Ma)</text>
<text x="474.2" y="573" font-size="11.2" text-anchor="start" fill="#1e1e1e" stroke="#1e1e1e" stroke-width="0.22">(f)</text>
<line x1="46.5" y1="308" x2="447" y2="13.5" stroke="#8c8c8c" stroke-width="1.3" stroke-dasharray="9 3.6"/>
<line x1="47.5" y1="40.3" x2="436" y2="40.3" stroke="#9a9a9a" stroke-width="1" stroke-dasharray="4.5 2.2"/>
<line x1="47.5" y1="77.4" x2="406.5" y2="77.4" stroke="#9a9a9a" stroke-width="1" stroke-dasharray="4.5 2.2"/>
<line x1="47.5" y1="107.7" x2="388" y2="107.7" stroke="#9a9a9a" stroke-width="1" stroke-dasharray="4.5 2.2"/>
<line x1="47.5" y1="123.5" x2="316.5" y2="123.5" stroke="#9a9a9a" stroke-width="1" stroke-dasharray="4.5 2.2"/>
<line x1="47.5" y1="157.1" x2="276" y2="157.1" stroke="#9a9a9a" stroke-width="1" stroke-dasharray="4.5 2.2"/>
<line x1="47.5" y1="187.5" x2="229" y2="187.5" stroke="#9a9a9a" stroke-width="1" stroke-dasharray="4.5 2.2"/>
<line x1="47.5" y1="219.6" x2="177" y2="219.6" stroke="#9a9a9a" stroke-width="1" stroke-dasharray="4.5 2.2"/>
<line x1="47.5" y1="254.6" x2="130" y2="254.6" stroke="#9a9a9a" stroke-width="1" stroke-dasharray="4.5 2.2"/>
<line x1="130" y1="254.6" x2="130" y2="308" stroke="#9a9a9a" stroke-width="1" stroke-dasharray="4.5 2.2"/>
<line x1="177" y1="219.6" x2="177" y2="308" stroke="#9a9a9a" stroke-width="1" stroke-dasharray="4.5 2.2"/>
<line x1="229" y1="187.5" x2="229" y2="308" stroke="#9a9a9a" stroke-width="1" stroke-dasharray="4.5 2.2"/>
<line x1="276" y1="157.1" x2="276" y2="308" stroke="#9a9a9a" stroke-width="1" stroke-dasharray="4.5 2.2"/>
<line x1="316.5" y1="123.5" x2="316.5" y2="308" stroke="#9a9a9a" stroke-width="1" stroke-dasharray="4.5 2.2"/>
<line x1="380.6" y1="108" x2="380.6" y2="308" stroke="#9a9a9a" stroke-width="1" stroke-dasharray="4.5 2.2"/>
<line x1="406.5" y1="78.5" x2="406.5" y2="308" stroke="#9a9a9a" stroke-width="1" stroke-dasharray="4.5 2.2"/>
<line x1="435.6" y1="54" x2="435.6" y2="308" stroke="#9a9a9a" stroke-width="1" stroke-dasharray="4.5 2.2"/>
<line x1="290.5" y1="308" x2="290.5" y2="149" stroke="#939393" stroke-width="1.6"/>
<polygon points="290.5,144 293.3,150.2 290.5,149.58 287.7,150.2" fill="#939393"/>
<line x1="290.5" y1="142.8" x2="52.5" y2="142.8" stroke="#939393" stroke-width="1.6"/>
<polygon points="47.8,142.8 54,140 53.38,142.8 54,145.6" fill="#939393"/>
<line x1="77.7" y1="308" x2="77.7" y2="301.5" stroke="#939393" stroke-width="1.6"/>
<polygon points="77.7,296.5 80.5,302.7 77.7,302.08 74.9,302.7" fill="#939393"/>
<line x1="77.7" y1="294.3" x2="52.5" y2="294.3" stroke="#939393" stroke-width="1.6"/>
<polygon points="47.8,294.3 54,291.5 53.38,294.3 54,297.1" fill="#939393"/>
<line x1="128.6" y1="240.6" x2="128.6" y2="253.9" stroke="#8f8f8f" stroke-width="1.1"/>
<line x1="125.6" y1="240.6" x2="131.6" y2="240.6" stroke="#8f8f8f" stroke-width="1.1"/>
<line x1="125.6" y1="253.9" x2="131.6" y2="253.9" stroke="#8f8f8f" stroke-width="1.1"/>
<line x1="125.3" y1="247.9" x2="142" y2="247.9" stroke="#8f8f8f" stroke-width="1.1"/>
<line x1="125.3" y1="244.9" x2="125.3" y2="250.9" stroke="#8f8f8f" stroke-width="1.1"/>
<line x1="142" y1="244.9" x2="142" y2="250.9" stroke="#8f8f8f" stroke-width="1.1"/>
<line x1="138.2" y1="241.3" x2="138.2" y2="254.6" stroke="#8f8f8f" stroke-width="1.1"/>
<line x1="135.2" y1="241.3" x2="141.2" y2="241.3" stroke="#8f8f8f" stroke-width="1.1"/>
<line x1="135.2" y1="254.6" x2="141.2" y2="254.6" stroke="#8f8f8f" stroke-width="1.1"/>
<line x1="172.6" y1="216.6" x2="172.6" y2="237.9" stroke="#8f8f8f" stroke-width="1.1"/>
<line x1="169.6" y1="216.6" x2="175.6" y2="216.6" stroke="#8f8f8f" stroke-width="1.1"/>
<line x1="169.6" y1="237.9" x2="175.6" y2="237.9" stroke="#8f8f8f" stroke-width="1.1"/>
<line x1="169.2" y1="220.9" x2="185.2" y2="220.9" stroke="#8f8f8f" stroke-width="1.1"/>
<line x1="169.2" y1="217.9" x2="169.2" y2="223.9" stroke="#8f8f8f" stroke-width="1.1"/>
<line x1="185.2" y1="217.9" x2="185.2" y2="223.9" stroke="#8f8f8f" stroke-width="1.1"/>
<line x1="184" y1="211" x2="184" y2="221" stroke="#8f8f8f" stroke-width="1.1"/>
<line x1="181" y1="211" x2="187" y2="211" stroke="#8f8f8f" stroke-width="1.1"/>
<line x1="181" y1="221" x2="187" y2="221" stroke="#8f8f8f" stroke-width="1.1"/>
<line x1="188" y1="214.4" x2="200" y2="214.4" stroke="#8f8f8f" stroke-width="1.1"/>
<line x1="188" y1="211.4" x2="188" y2="217.4" stroke="#8f8f8f" stroke-width="1.1"/>
<line x1="200" y1="211.4" x2="200" y2="217.4" stroke="#8f8f8f" stroke-width="1.1"/>
<line x1="195.4" y1="200.2" x2="195.4" y2="214.4" stroke="#8f8f8f" stroke-width="1.1"/>
<line x1="192.4" y1="200.2" x2="198.4" y2="200.2" stroke="#8f8f8f" stroke-width="1.1"/>
<line x1="192.4" y1="214.4" x2="198.4" y2="214.4" stroke="#8f8f8f" stroke-width="1.1"/>
<line x1="200.5" y1="200.4" x2="218.5" y2="200.4" stroke="#8f8f8f" stroke-width="1.1"/>
<line x1="200.5" y1="197.4" x2="200.5" y2="203.4" stroke="#8f8f8f" stroke-width="1.1"/>
<line x1="218.5" y1="197.4" x2="218.5" y2="203.4" stroke="#8f8f8f" stroke-width="1.1"/>
<line x1="212.6" y1="197.3" x2="212.6" y2="214.4" stroke="#8f8f8f" stroke-width="1.1"/>
<line x1="209.6" y1="197.3" x2="215.6" y2="197.3" stroke="#8f8f8f" stroke-width="1.1"/>
<line x1="209.6" y1="214.4" x2="215.6" y2="214.4" stroke="#8f8f8f" stroke-width="1.1"/>
<line x1="236.3" y1="167.7" x2="236.3" y2="186.6" stroke="#8f8f8f" stroke-width="1.1"/>
<line x1="233.3" y1="167.7" x2="239.3" y2="167.7" stroke="#8f8f8f" stroke-width="1.1"/>
<line x1="233.3" y1="186.6" x2="239.3" y2="186.6" stroke="#8f8f8f" stroke-width="1.1"/>
<line x1="236.3" y1="187.5" x2="242.8" y2="187.5" stroke="#8f8f8f" stroke-width="1.1"/>
<line x1="236.3" y1="184.5" x2="236.3" y2="190.5" stroke="#8f8f8f" stroke-width="1.1"/>
<line x1="242.8" y1="184.5" x2="242.8" y2="190.5" stroke="#8f8f8f" stroke-width="1.1"/>
<line x1="257.7" y1="158" x2="257.7" y2="185" stroke="#8f8f8f" stroke-width="1.1"/>
<line x1="254.7" y1="158" x2="260.7" y2="158" stroke="#8f8f8f" stroke-width="1.1"/>
<line x1="254.7" y1="185" x2="260.7" y2="185" stroke="#8f8f8f" stroke-width="1.1"/>
<line x1="244" y1="168" x2="266" y2="168" stroke="#8f8f8f" stroke-width="1.1"/>
<line x1="244" y1="165" x2="244" y2="171" stroke="#8f8f8f" stroke-width="1.1"/>
<line x1="266" y1="165" x2="266" y2="171" stroke="#8f8f8f" stroke-width="1.1"/>
<line x1="277.7" y1="131.5" x2="277.7" y2="152" stroke="#8f8f8f" stroke-width="1.1"/>
<line x1="274.7" y1="131.5" x2="280.7" y2="131.5" stroke="#8f8f8f" stroke-width="1.1"/>
<line x1="274.7" y1="152" x2="280.7" y2="152" stroke="#8f8f8f" stroke-width="1.1"/>
<line x1="304.6" y1="123.5" x2="304.6" y2="151.5" stroke="#8f8f8f" stroke-width="1.1"/>
<line x1="301.6" y1="123.5" x2="307.6" y2="123.5" stroke="#8f8f8f" stroke-width="1.1"/>
<line x1="301.6" y1="151.5" x2="307.6" y2="151.5" stroke="#8f8f8f" stroke-width="1.1"/>
<line x1="301" y1="131" x2="309" y2="131" stroke="#8f8f8f" stroke-width="1.1"/>
<line x1="301" y1="128" x2="301" y2="134" stroke="#8f8f8f" stroke-width="1.1"/>
<line x1="309" y1="128" x2="309" y2="134" stroke="#8f8f8f" stroke-width="1.1"/>
<line x1="316.9" y1="122" x2="316.9" y2="130.8" stroke="#8f8f8f" stroke-width="1.1"/>
<line x1="313.9" y1="122" x2="319.9" y2="122" stroke="#8f8f8f" stroke-width="1.1"/>
<line x1="313.9" y1="130.8" x2="319.9" y2="130.8" stroke="#8f8f8f" stroke-width="1.1"/>
<line x1="309.2" y1="120.1" x2="309.2" y2="125.4" stroke="#8f8f8f" stroke-width="1.1"/>
<line x1="307.2" y1="120.1" x2="311.2" y2="120.1" stroke="#8f8f8f" stroke-width="1.1"/>
<line x1="307.2" y1="125.4" x2="311.2" y2="125.4" stroke="#8f8f8f" stroke-width="1.1"/>
<line x1="330" y1="118" x2="330" y2="125" stroke="#8f8f8f" stroke-width="1.1"/>
<line x1="327" y1="118" x2="333" y2="118" stroke="#8f8f8f" stroke-width="1.1"/>
<line x1="327" y1="125" x2="333" y2="125" stroke="#8f8f8f" stroke-width="1.1"/>
<line x1="347.6" y1="114" x2="347.6" y2="124" stroke="#8f8f8f" stroke-width="1.1"/>
<line x1="344.6" y1="114" x2="350.6" y2="114" stroke="#8f8f8f" stroke-width="1.1"/>
<line x1="344.6" y1="124" x2="350.6" y2="124" stroke="#8f8f8f" stroke-width="1.1"/>
<line x1="362.2" y1="108" x2="362.2" y2="121" stroke="#8f8f8f" stroke-width="1.1"/>
<line x1="359.2" y1="108" x2="365.2" y2="108" stroke="#8f8f8f" stroke-width="1.1"/>
<line x1="359.2" y1="121" x2="365.2" y2="121" stroke="#8f8f8f" stroke-width="1.1"/>
<line x1="352" y1="116.2" x2="370" y2="116.2" stroke="#8f8f8f" stroke-width="1.1"/>
<line x1="352" y1="113.2" x2="352" y2="119.2" stroke="#8f8f8f" stroke-width="1.1"/>
<line x1="370" y1="113.2" x2="370" y2="119.2" stroke="#8f8f8f" stroke-width="1.1"/>
<line x1="381" y1="100" x2="381" y2="116" stroke="#8f8f8f" stroke-width="1.1"/>
<line x1="378" y1="100" x2="384" y2="100" stroke="#8f8f8f" stroke-width="1.1"/>
<line x1="378" y1="116" x2="384" y2="116" stroke="#8f8f8f" stroke-width="1.1"/>
<line x1="374" y1="108.1" x2="390" y2="108.1" stroke="#8f8f8f" stroke-width="1.1"/>
<line x1="374" y1="105.1" x2="374" y2="111.1" stroke="#8f8f8f" stroke-width="1.1"/>
<line x1="390" y1="105.1" x2="390" y2="111.1" stroke="#8f8f8f" stroke-width="1.1"/>
<line x1="392" y1="82" x2="392" y2="93" stroke="#8f8f8f" stroke-width="1.1"/>
<line x1="389" y1="82" x2="395" y2="82" stroke="#8f8f8f" stroke-width="1.1"/>
<line x1="389" y1="93" x2="395" y2="93" stroke="#8f8f8f" stroke-width="1.1"/>
<line x1="385" y1="86.6" x2="398" y2="86.6" stroke="#8f8f8f" stroke-width="1.1"/>
<line x1="385" y1="83.6" x2="385" y2="89.6" stroke="#8f8f8f" stroke-width="1.1"/>
<line x1="398" y1="83.6" x2="398" y2="89.6" stroke="#8f8f8f" stroke-width="1.1"/>
<line x1="405.6" y1="70" x2="405.6" y2="86" stroke="#8f8f8f" stroke-width="1.1"/>
<line x1="402.6" y1="70" x2="408.6" y2="70" stroke="#8f8f8f" stroke-width="1.1"/>
<line x1="402.6" y1="86" x2="408.6" y2="86" stroke="#8f8f8f" stroke-width="1.1"/>
<line x1="397" y1="78.4" x2="423" y2="78.4" stroke="#8f8f8f" stroke-width="1.1"/>
<line x1="397" y1="75.4" x2="397" y2="81.4" stroke="#8f8f8f" stroke-width="1.1"/>
<line x1="423" y1="75.4" x2="423" y2="81.4" stroke="#8f8f8f" stroke-width="1.1"/>
<line x1="415.8" y1="56" x2="415.8" y2="66" stroke="#8f8f8f" stroke-width="1.1"/>
<line x1="412.8" y1="56" x2="418.8" y2="56" stroke="#8f8f8f" stroke-width="1.1"/>
<line x1="412.8" y1="66" x2="418.8" y2="66" stroke="#8f8f8f" stroke-width="1.1"/>
<line x1="419.8" y1="43.3" x2="419.8" y2="54" stroke="#8f8f8f" stroke-width="1.1"/>
<line x1="416.8" y1="43.3" x2="422.8" y2="43.3" stroke="#8f8f8f" stroke-width="1.1"/>
<line x1="416.8" y1="54" x2="422.8" y2="54" stroke="#8f8f8f" stroke-width="1.1"/>
<line x1="425" y1="54" x2="435.8" y2="54" stroke="#8f8f8f" stroke-width="1.1"/>
<line x1="425" y1="51" x2="425" y2="57" stroke="#8f8f8f" stroke-width="1.1"/>
<line x1="435.8" y1="51" x2="435.8" y2="57" stroke="#8f8f8f" stroke-width="1.1"/>
<line x1="415" y1="44" x2="423" y2="44" stroke="#8f8f8f" stroke-width="1.1"/>
<line x1="415" y1="41" x2="415" y2="47" stroke="#8f8f8f" stroke-width="1.1"/>
<line x1="423" y1="41" x2="423" y2="47" stroke="#8f8f8f" stroke-width="1.1"/>
<polyline points="77.7,294.3 129.9,253.9 137.6,244.3 170.9,238.4 177.8,218.1 194.4,214.4 213.3,200.6 218.4,199.5 228.3,187.7 236.6,186.5 257.5,167.6 266.4,160.2 275.8,155.6 277.4,151.5 304.3,131 316.5,122.8 330,121.4 346.6,119.9 362.2,116.1 381,108.1 388.3,106.6 392.1,86.9 405.6,78.4 407.6,76.6 415.8,61.5 417.8,54.6 434.1,40.8" fill="none" stroke="#000" stroke-width="1.4" stroke-linejoin="round"/>
<line x1="73.8" y1="293.1" x2="81.6" y2="293.1" stroke="#000" stroke-width="1.3"/>
<line x1="73.8" y1="295.5" x2="81.6" y2="295.5" stroke="#000" stroke-width="1.3"/>
<line x1="77.7" y1="290.4" x2="77.7" y2="298.2" stroke="#000" stroke-width="1.4000000000000001"/>
<line x1="126" y1="252.7" x2="133.8" y2="252.7" stroke="#000" stroke-width="1.3"/>
<line x1="126" y1="255.1" x2="133.8" y2="255.1" stroke="#000" stroke-width="1.3"/>
<line x1="129.9" y1="250" x2="129.9" y2="257.8" stroke="#000" stroke-width="1.4000000000000001"/>
<line x1="133.7" y1="243.1" x2="141.5" y2="243.1" stroke="#000" stroke-width="1.3"/>
<line x1="133.7" y1="245.5" x2="141.5" y2="245.5" stroke="#000" stroke-width="1.3"/>
<line x1="137.6" y1="240.4" x2="137.6" y2="248.2" stroke="#000" stroke-width="1.4000000000000001"/>
<line x1="167" y1="237.2" x2="174.8" y2="237.2" stroke="#000" stroke-width="1.3"/>
<line x1="167" y1="239.6" x2="174.8" y2="239.6" stroke="#000" stroke-width="1.3"/>
<line x1="170.9" y1="234.5" x2="170.9" y2="242.3" stroke="#000" stroke-width="1.4000000000000001"/>
<line x1="173.9" y1="216.9" x2="181.7" y2="216.9" stroke="#000" stroke-width="1.3"/>
<line x1="173.9" y1="219.3" x2="181.7" y2="219.3" stroke="#000" stroke-width="1.3"/>
<line x1="177.8" y1="214.2" x2="177.8" y2="222" stroke="#000" stroke-width="1.4000000000000001"/>
<line x1="190.5" y1="213.2" x2="198.3" y2="213.2" stroke="#000" stroke-width="1.3"/>
<line x1="190.5" y1="215.6" x2="198.3" y2="215.6" stroke="#000" stroke-width="1.3"/>
<line x1="194.4" y1="210.5" x2="194.4" y2="218.3" stroke="#000" stroke-width="1.4000000000000001"/>
<line x1="209.4" y1="199.4" x2="217.2" y2="199.4" stroke="#000" stroke-width="1.3"/>
<line x1="209.4" y1="201.8" x2="217.2" y2="201.8" stroke="#000" stroke-width="1.3"/>
<line x1="213.3" y1="196.7" x2="213.3" y2="204.5" stroke="#000" stroke-width="1.4000000000000001"/>
<line x1="214.5" y1="198.3" x2="222.3" y2="198.3" stroke="#000" stroke-width="1.3"/>
<line x1="214.5" y1="200.7" x2="222.3" y2="200.7" stroke="#000" stroke-width="1.3"/>
<line x1="218.4" y1="195.6" x2="218.4" y2="203.4" stroke="#000" stroke-width="1.4000000000000001"/>
<line x1="224.4" y1="186.5" x2="232.2" y2="186.5" stroke="#000" stroke-width="1.3"/>
<line x1="224.4" y1="188.9" x2="232.2" y2="188.9" stroke="#000" stroke-width="1.3"/>
<line x1="228.3" y1="183.8" x2="228.3" y2="191.6" stroke="#000" stroke-width="1.4000000000000001"/>
<line x1="232.7" y1="185.3" x2="240.5" y2="185.3" stroke="#000" stroke-width="1.3"/>
<line x1="232.7" y1="187.7" x2="240.5" y2="187.7" stroke="#000" stroke-width="1.3"/>
<line x1="236.6" y1="182.6" x2="236.6" y2="190.4" stroke="#000" stroke-width="1.4000000000000001"/>
<line x1="253.6" y1="166.4" x2="261.4" y2="166.4" stroke="#000" stroke-width="1.3"/>
<line x1="253.6" y1="168.8" x2="261.4" y2="168.8" stroke="#000" stroke-width="1.3"/>
<line x1="257.5" y1="163.7" x2="257.5" y2="171.5" stroke="#000" stroke-width="1.4000000000000001"/>
<line x1="262.5" y1="159" x2="270.3" y2="159" stroke="#000" stroke-width="1.3"/>
<line x1="262.5" y1="161.4" x2="270.3" y2="161.4" stroke="#000" stroke-width="1.3"/>
<line x1="266.4" y1="156.3" x2="266.4" y2="164.1" stroke="#000" stroke-width="1.4000000000000001"/>
<line x1="271.9" y1="154.4" x2="279.7" y2="154.4" stroke="#000" stroke-width="1.3"/>
<line x1="271.9" y1="156.8" x2="279.7" y2="156.8" stroke="#000" stroke-width="1.3"/>
<line x1="275.8" y1="151.7" x2="275.8" y2="159.5" stroke="#000" stroke-width="1.4000000000000001"/>
<line x1="273.5" y1="150.3" x2="281.3" y2="150.3" stroke="#000" stroke-width="1.3"/>
<line x1="273.5" y1="152.7" x2="281.3" y2="152.7" stroke="#000" stroke-width="1.3"/>
<line x1="277.4" y1="147.6" x2="277.4" y2="155.4" stroke="#000" stroke-width="1.4000000000000001"/>
<line x1="300.4" y1="129.8" x2="308.2" y2="129.8" stroke="#000" stroke-width="1.3"/>
<line x1="300.4" y1="132.2" x2="308.2" y2="132.2" stroke="#000" stroke-width="1.3"/>
<line x1="304.3" y1="127.1" x2="304.3" y2="134.9" stroke="#000" stroke-width="1.4000000000000001"/>
<line x1="312.6" y1="121.6" x2="320.4" y2="121.6" stroke="#000" stroke-width="1.3"/>
<line x1="312.6" y1="124" x2="320.4" y2="124" stroke="#000" stroke-width="1.3"/>
<line x1="316.5" y1="118.9" x2="316.5" y2="126.7" stroke="#000" stroke-width="1.4000000000000001"/>
<line x1="326.1" y1="120.2" x2="333.9" y2="120.2" stroke="#000" stroke-width="1.3"/>
<line x1="326.1" y1="122.6" x2="333.9" y2="122.6" stroke="#000" stroke-width="1.3"/>
<line x1="330" y1="117.5" x2="330" y2="125.3" stroke="#000" stroke-width="1.4000000000000001"/>
<line x1="342.7" y1="118.7" x2="350.5" y2="118.7" stroke="#000" stroke-width="1.3"/>
<line x1="342.7" y1="121.1" x2="350.5" y2="121.1" stroke="#000" stroke-width="1.3"/>
<line x1="346.6" y1="116" x2="346.6" y2="123.8" stroke="#000" stroke-width="1.4000000000000001"/>
<line x1="358.3" y1="114.9" x2="366.1" y2="114.9" stroke="#000" stroke-width="1.3"/>
<line x1="358.3" y1="117.3" x2="366.1" y2="117.3" stroke="#000" stroke-width="1.3"/>
<line x1="362.2" y1="112.2" x2="362.2" y2="120" stroke="#000" stroke-width="1.4000000000000001"/>
<line x1="377.1" y1="106.9" x2="384.9" y2="106.9" stroke="#000" stroke-width="1.3"/>
<line x1="377.1" y1="109.3" x2="384.9" y2="109.3" stroke="#000" stroke-width="1.3"/>
<line x1="381" y1="104.2" x2="381" y2="112" stroke="#000" stroke-width="1.4000000000000001"/>
<line x1="384.4" y1="105.4" x2="392.2" y2="105.4" stroke="#000" stroke-width="1.3"/>
<line x1="384.4" y1="107.8" x2="392.2" y2="107.8" stroke="#000" stroke-width="1.3"/>
<line x1="388.3" y1="102.7" x2="388.3" y2="110.5" stroke="#000" stroke-width="1.4000000000000001"/>
<line x1="388.2" y1="85.7" x2="396" y2="85.7" stroke="#000" stroke-width="1.3"/>
<line x1="388.2" y1="88.1" x2="396" y2="88.1" stroke="#000" stroke-width="1.3"/>
<line x1="392.1" y1="83" x2="392.1" y2="90.8" stroke="#000" stroke-width="1.4000000000000001"/>
<line x1="401.7" y1="77.2" x2="409.5" y2="77.2" stroke="#000" stroke-width="1.3"/>
<line x1="401.7" y1="79.6" x2="409.5" y2="79.6" stroke="#000" stroke-width="1.3"/>
<line x1="405.6" y1="74.5" x2="405.6" y2="82.3" stroke="#000" stroke-width="1.4000000000000001"/>
<line x1="403.7" y1="75.4" x2="411.5" y2="75.4" stroke="#000" stroke-width="1.3"/>
<line x1="403.7" y1="77.8" x2="411.5" y2="77.8" stroke="#000" stroke-width="1.3"/>
<line x1="407.6" y1="72.7" x2="407.6" y2="80.5" stroke="#000" stroke-width="1.4000000000000001"/>
<line x1="411.9" y1="60.3" x2="419.7" y2="60.3" stroke="#000" stroke-width="1.3"/>
<line x1="411.9" y1="62.7" x2="419.7" y2="62.7" stroke="#000" stroke-width="1.3"/>
<line x1="415.8" y1="57.6" x2="415.8" y2="65.4" stroke="#000" stroke-width="1.4000000000000001"/>
<line x1="413.9" y1="53.4" x2="421.7" y2="53.4" stroke="#000" stroke-width="1.3"/>
<line x1="413.9" y1="55.8" x2="421.7" y2="55.8" stroke="#000" stroke-width="1.3"/>
<line x1="417.8" y1="50.7" x2="417.8" y2="58.5" stroke="#000" stroke-width="1.4000000000000001"/>
<line x1="430.2" y1="39.6" x2="438" y2="39.6" stroke="#000" stroke-width="1.3"/>
<line x1="430.2" y1="42" x2="438" y2="42" stroke="#000" stroke-width="1.3"/>
<line x1="434.1" y1="36.9" x2="434.1" y2="44.7" stroke="#000" stroke-width="1.4000000000000001"/>
<line x1="518.4" y1="125" x2="671.8" y2="11.7" stroke="#8c8c8c" stroke-width="1.3" stroke-dasharray="9 3.6"/>
<line x1="519.4" y1="21.1" x2="645.8" y2="21.1" stroke="#9a9a9a" stroke-width="1" stroke-dasharray="4.5 2.2"/>
<line x1="519.4" y1="56" x2="611.8" y2="56" stroke="#9a9a9a" stroke-width="1" stroke-dasharray="4.5 2.2"/>
<line x1="519.4" y1="92.2" x2="575.5" y2="92.2" stroke="#9a9a9a" stroke-width="1" stroke-dasharray="4.5 2.2"/>
<line x1="575.5" y1="92.2" x2="575.5" y2="125" stroke="#9a9a9a" stroke-width="1" stroke-dasharray="4.5 2.2"/>
<line x1="611.8" y1="56" x2="611.8" y2="125" stroke="#9a9a9a" stroke-width="1" stroke-dasharray="4.5 2.2"/>
<line x1="645.6" y1="26" x2="645.6" y2="125" stroke="#9a9a9a" stroke-width="1" stroke-dasharray="4.5 2.2"/>
<line x1="533.3" y1="123.3" x2="523.5" y2="123.3" stroke="#939393" stroke-width="1.6"/>
<polygon points="519.8,123.3 524.8,121.1 524.3,123.3 524.8,125.5" fill="#939393"/>
<line x1="617.7" y1="42.5" x2="632.5" y2="42.5" stroke="#8f8f8f" stroke-width="1.1"/>
<line x1="617.7" y1="39.5" x2="617.7" y2="45.5" stroke="#8f8f8f" stroke-width="1.1"/>
<line x1="632.5" y1="39.5" x2="632.5" y2="45.5" stroke="#8f8f8f" stroke-width="1.1"/>
<line x1="625" y1="48.2" x2="636.2" y2="48.2" stroke="#8f8f8f" stroke-width="1.1"/>
<line x1="625" y1="45.2" x2="625" y2="51.2" stroke="#8f8f8f" stroke-width="1.1"/>
<line x1="636.2" y1="45.2" x2="636.2" y2="51.2" stroke="#8f8f8f" stroke-width="1.1"/>
<line x1="617.7" y1="52.9" x2="632.5" y2="52.9" stroke="#8f8f8f" stroke-width="1.1"/>
<line x1="617.7" y1="49.9" x2="617.7" y2="55.9" stroke="#8f8f8f" stroke-width="1.1"/>
<line x1="632.5" y1="49.9" x2="632.5" y2="55.9" stroke="#8f8f8f" stroke-width="1.1"/>
<line x1="593.3" y1="57.8" x2="611" y2="57.8" stroke="#8f8f8f" stroke-width="1.1"/>
<line x1="593.3" y1="54.8" x2="593.3" y2="60.8" stroke="#8f8f8f" stroke-width="1.1"/>
<line x1="611" y1="54.8" x2="611" y2="60.8" stroke="#8f8f8f" stroke-width="1.1"/>
<line x1="591.8" y1="72.9" x2="611" y2="72.9" stroke="#8f8f8f" stroke-width="1.1"/>
<line x1="591.8" y1="69.9" x2="591.8" y2="75.9" stroke="#8f8f8f" stroke-width="1.1"/>
<line x1="611" y1="69.9" x2="611" y2="75.9" stroke="#8f8f8f" stroke-width="1.1"/>
<line x1="590" y1="66.2" x2="611" y2="66.2" stroke="#8f8f8f" stroke-width="1.1"/>
<line x1="590" y1="63.2" x2="590" y2="69.2" stroke="#8f8f8f" stroke-width="1.1"/>
<line x1="611" y1="63.2" x2="611" y2="69.2" stroke="#8f8f8f" stroke-width="1.1"/>
<line x1="611" y1="52.9" x2="611" y2="66.2" stroke="#8f8f8f" stroke-width="1.1"/>
<line x1="608" y1="52.9" x2="614" y2="52.9" stroke="#8f8f8f" stroke-width="1.1"/>
<line x1="608" y1="66.2" x2="614" y2="66.2" stroke="#8f8f8f" stroke-width="1.1"/>
<line x1="632.5" y1="39.6" x2="632.5" y2="55.9" stroke="#8f8f8f" stroke-width="1.1"/>
<line x1="629.5" y1="39.6" x2="635.5" y2="39.6" stroke="#8f8f8f" stroke-width="1.1"/>
<line x1="629.5" y1="55.9" x2="635.5" y2="55.9" stroke="#8f8f8f" stroke-width="1.1"/>
<line x1="577.5" y1="76" x2="577.5" y2="88" stroke="#8f8f8f" stroke-width="1.1"/>
<line x1="574.5" y1="76" x2="580.5" y2="76" stroke="#8f8f8f" stroke-width="1.1"/>
<line x1="574.5" y1="88" x2="580.5" y2="88" stroke="#8f8f8f" stroke-width="1.1"/>
<line x1="586.6" y1="74" x2="586.6" y2="85" stroke="#8f8f8f" stroke-width="1.1"/>
<line x1="583.6" y1="74" x2="589.6" y2="74" stroke="#8f8f8f" stroke-width="1.1"/>
<line x1="583.6" y1="85" x2="589.6" y2="85" stroke="#8f8f8f" stroke-width="1.1"/>
<line x1="642.8" y1="26" x2="642.8" y2="38" stroke="#8f8f8f" stroke-width="1.1"/>
<line x1="639.8" y1="26" x2="645.8" y2="26" stroke="#8f8f8f" stroke-width="1.1"/>
<line x1="639.8" y1="38" x2="645.8" y2="38" stroke="#8f8f8f" stroke-width="1.1"/>
<polyline points="533.3,122.6 574.8,92.8 577.5,81.7 586.6,79.5 591.8,73.6 611,57 617,52.2 632.5,42.5 635.4,38.8 642.8,32.9 645.8,21.1" fill="none" stroke="#000" stroke-width="1.3" stroke-linejoin="round"/>
<line x1="529.9" y1="122.6" x2="536.7" y2="122.6" stroke="#000" stroke-width="1.1"/>
<line x1="533.3" y1="119.2" x2="533.3" y2="126" stroke="#000" stroke-width="1.1"/>
<line x1="571.4" y1="92.8" x2="578.2" y2="92.8" stroke="#000" stroke-width="1.1"/>
<line x1="574.8" y1="89.4" x2="574.8" y2="96.2" stroke="#000" stroke-width="1.1"/>
<line x1="574.1" y1="81.7" x2="580.9" y2="81.7" stroke="#000" stroke-width="1.1"/>
<line x1="577.5" y1="78.3" x2="577.5" y2="85.1" stroke="#000" stroke-width="1.1"/>
<line x1="583.2" y1="79.5" x2="590" y2="79.5" stroke="#000" stroke-width="1.1"/>
<line x1="586.6" y1="76.1" x2="586.6" y2="82.9" stroke="#000" stroke-width="1.1"/>
<line x1="588.4" y1="73.6" x2="595.2" y2="73.6" stroke="#000" stroke-width="1.1"/>
<line x1="591.8" y1="70.2" x2="591.8" y2="77" stroke="#000" stroke-width="1.1"/>
<line x1="607.6" y1="57" x2="614.4" y2="57" stroke="#000" stroke-width="1.1"/>
<line x1="611" y1="53.6" x2="611" y2="60.4" stroke="#000" stroke-width="1.1"/>
<line x1="613.6" y1="52.2" x2="620.4" y2="52.2" stroke="#000" stroke-width="1.1"/>
<line x1="617" y1="48.8" x2="617" y2="55.6" stroke="#000" stroke-width="1.1"/>
<line x1="629.1" y1="42.5" x2="635.9" y2="42.5" stroke="#000" stroke-width="1.1"/>
<line x1="632.5" y1="39.1" x2="632.5" y2="45.9" stroke="#000" stroke-width="1.1"/>
<line x1="632" y1="38.8" x2="638.8" y2="38.8" stroke="#000" stroke-width="1.1"/>
<line x1="635.4" y1="35.4" x2="635.4" y2="42.2" stroke="#000" stroke-width="1.1"/>
<line x1="639.4" y1="32.9" x2="646.2" y2="32.9" stroke="#000" stroke-width="1.1"/>
<line x1="642.8" y1="29.5" x2="642.8" y2="36.3" stroke="#000" stroke-width="1.1"/>
<line x1="642.4" y1="21.1" x2="649.2" y2="21.1" stroke="#000" stroke-width="1.1"/>
<line x1="645.8" y1="17.7" x2="645.8" y2="24.5" stroke="#000" stroke-width="1.1"/>
<line x1="518.5" y1="313" x2="670.9" y2="201.7" stroke="#8c8c8c" stroke-width="1.3" stroke-dasharray="9 3.6"/>
<line x1="519.5" y1="209.3" x2="661" y2="209.3" stroke="#9a9a9a" stroke-width="1" stroke-dasharray="4.5 2.2"/>
<line x1="519.5" y1="243.5" x2="619.5" y2="243.5" stroke="#9a9a9a" stroke-width="1" stroke-dasharray="4.5 2.2"/>
<line x1="519.5" y1="280.8" x2="582" y2="280.8" stroke="#9a9a9a" stroke-width="1" stroke-dasharray="4.5 2.2"/>
<line x1="583" y1="281" x2="583" y2="313" stroke="#9a9a9a" stroke-width="1" stroke-dasharray="4.5 2.2"/>
<line x1="621" y1="246" x2="621" y2="313" stroke="#9a9a9a" stroke-width="1" stroke-dasharray="4.5 2.2"/>
<line x1="661" y1="222.6" x2="661" y2="313" stroke="#9a9a9a" stroke-width="1" stroke-dasharray="4.5 2.2"/>
<line x1="541.7" y1="311.4" x2="524" y2="311.4" stroke="#939393" stroke-width="1.6"/>
<polygon points="520.2,311.4 525.2,309.2 524.7,311.4 525.2,313.6" fill="#939393"/>
<line x1="636" y1="239.1" x2="650" y2="239.1" stroke="#8f8f8f" stroke-width="1.1"/>
<line x1="636" y1="236.1" x2="636" y2="242.1" stroke="#8f8f8f" stroke-width="1.1"/>
<line x1="650" y1="236.1" x2="650" y2="242.1" stroke="#8f8f8f" stroke-width="1.1"/>
<line x1="639" y1="232" x2="657.8" y2="232" stroke="#8f8f8f" stroke-width="1.1"/>
<line x1="639" y1="229" x2="639" y2="235" stroke="#8f8f8f" stroke-width="1.1"/>
<line x1="657.8" y1="229" x2="657.8" y2="235" stroke="#8f8f8f" stroke-width="1.1"/>
<line x1="653" y1="221" x2="664" y2="221" stroke="#8f8f8f" stroke-width="1.1"/>
<line x1="653" y1="218" x2="653" y2="224" stroke="#8f8f8f" stroke-width="1.1"/>
<line x1="664" y1="218" x2="664" y2="224" stroke="#8f8f8f" stroke-width="1.1"/>
<line x1="615.5" y1="254" x2="615.5" y2="265" stroke="#8f8f8f" stroke-width="1.1"/>
<line x1="612.5" y1="254" x2="618.5" y2="254" stroke="#8f8f8f" stroke-width="1.1"/>
<line x1="612.5" y1="265" x2="618.5" y2="265" stroke="#8f8f8f" stroke-width="1.1"/>
<line x1="583.3" y1="266.5" x2="583.3" y2="277.5" stroke="#8f8f8f" stroke-width="1.1"/>
<line x1="580.3" y1="266.5" x2="586.3" y2="266.5" stroke="#8f8f8f" stroke-width="1.1"/>
<line x1="580.3" y1="277.5" x2="586.3" y2="277.5" stroke="#8f8f8f" stroke-width="1.1"/>
<line x1="582.5" y1="269.7" x2="590.4" y2="269.7" stroke="#8f8f8f" stroke-width="1.1"/>
<line x1="582.5" y1="266.7" x2="582.5" y2="272.7" stroke="#8f8f8f" stroke-width="1.1"/>
<line x1="590.4" y1="266.7" x2="590.4" y2="272.7" stroke="#8f8f8f" stroke-width="1.1"/>
<line x1="619.9" y1="238" x2="619.9" y2="250" stroke="#8f8f8f" stroke-width="1.1"/>
<line x1="616.9" y1="238" x2="622.9" y2="238" stroke="#8f8f8f" stroke-width="1.1"/>
<line x1="616.9" y1="250" x2="622.9" y2="250" stroke="#8f8f8f" stroke-width="1.1"/>
<line x1="660.6" y1="204" x2="660.6" y2="215" stroke="#8f8f8f" stroke-width="1.1"/>
<line x1="657.6" y1="204" x2="663.6" y2="204" stroke="#8f8f8f" stroke-width="1.1"/>
<line x1="657.6" y1="215" x2="663.6" y2="215" stroke="#8f8f8f" stroke-width="1.1"/>
<polyline points="541.7,311.2 581.8,281.5 583.3,270.5 588.8,269.7 613.1,265.8 615.5,261.8 619.9,243.8 622.5,242.7 635.9,239.9 638.2,239.1 648.4,232 655.5,223.4 659.4,221.4 660.6,210.1" fill="none" stroke="#000" stroke-width="1.3" stroke-linejoin="round"/>
<line x1="538.3" y1="311.2" x2="545.1" y2="311.2" stroke="#000" stroke-width="1.1"/>
<line x1="541.7" y1="307.8" x2="541.7" y2="314.6" stroke="#000" stroke-width="1.1"/>
<line x1="578.4" y1="281.5" x2="585.2" y2="281.5" stroke="#000" stroke-width="1.1"/>
<line x1="581.8" y1="278.1" x2="581.8" y2="284.9" stroke="#000" stroke-width="1.1"/>
<line x1="579.9" y1="270.5" x2="586.7" y2="270.5" stroke="#000" stroke-width="1.1"/>
<line x1="583.3" y1="267.1" x2="583.3" y2="273.9" stroke="#000" stroke-width="1.1"/>
<line x1="585.4" y1="269.7" x2="592.2" y2="269.7" stroke="#000" stroke-width="1.1"/>
<line x1="588.8" y1="266.3" x2="588.8" y2="273.1" stroke="#000" stroke-width="1.1"/>
<line x1="609.7" y1="265.8" x2="616.5" y2="265.8" stroke="#000" stroke-width="1.1"/>
<line x1="613.1" y1="262.4" x2="613.1" y2="269.2" stroke="#000" stroke-width="1.1"/>
<line x1="612.1" y1="261.8" x2="618.9" y2="261.8" stroke="#000" stroke-width="1.1"/>
<line x1="615.5" y1="258.4" x2="615.5" y2="265.2" stroke="#000" stroke-width="1.1"/>
<line x1="616.5" y1="243.8" x2="623.3" y2="243.8" stroke="#000" stroke-width="1.1"/>
<line x1="619.9" y1="240.4" x2="619.9" y2="247.2" stroke="#000" stroke-width="1.1"/>
<line x1="619.1" y1="242.7" x2="625.9" y2="242.7" stroke="#000" stroke-width="1.1"/>
<line x1="622.5" y1="239.3" x2="622.5" y2="246.1" stroke="#000" stroke-width="1.1"/>
<line x1="632.5" y1="239.9" x2="639.3" y2="239.9" stroke="#000" stroke-width="1.1"/>
<line x1="635.9" y1="236.5" x2="635.9" y2="243.3" stroke="#000" stroke-width="1.1"/>
<line x1="634.8" y1="239.1" x2="641.6" y2="239.1" stroke="#000" stroke-width="1.1"/>
<line x1="638.2" y1="235.7" x2="638.2" y2="242.5" stroke="#000" stroke-width="1.1"/>
<line x1="645" y1="232" x2="651.8" y2="232" stroke="#000" stroke-width="1.1"/>
<line x1="648.4" y1="228.6" x2="648.4" y2="235.4" stroke="#000" stroke-width="1.1"/>
<line x1="652.1" y1="223.4" x2="658.9" y2="223.4" stroke="#000" stroke-width="1.1"/>
<line x1="655.5" y1="220" x2="655.5" y2="226.8" stroke="#000" stroke-width="1.1"/>
<line x1="656" y1="221.4" x2="662.8" y2="221.4" stroke="#000" stroke-width="1.1"/>
<line x1="659.4" y1="218" x2="659.4" y2="224.8" stroke="#000" stroke-width="1.1"/>
<line x1="657.2" y1="210.1" x2="664" y2="210.1" stroke="#000" stroke-width="1.1"/>
<line x1="660.6" y1="206.7" x2="660.6" y2="213.5" stroke="#000" stroke-width="1.1"/>
<line x1="577.6" y1="281.5" x2="586" y2="281.5" stroke="#000" stroke-width="1.8"/>
<line x1="581.8" y1="277.3" x2="581.8" y2="285.7" stroke="#000" stroke-width="1.8"/>
<line x1="656.4" y1="210.1" x2="664.8" y2="210.1" stroke="#000" stroke-width="1.8"/>
<line x1="660.6" y1="205.9" x2="660.6" y2="214.3" stroke="#000" stroke-width="1.8"/>
<line x1="46.1" y1="684.9" x2="447.2" y2="390.6" stroke="#8c8c8c" stroke-width="1.3" stroke-dasharray="9 3.6"/>
<line x1="47.1" y1="653.7" x2="88.7" y2="653.7" stroke="#9a9a9a" stroke-width="1" stroke-dasharray="4.5 2.2"/>
<line x1="88.7" y1="653.7" x2="88.7" y2="684.9" stroke="#9a9a9a" stroke-width="1" stroke-dasharray="4.5 2.2"/>
<line x1="47.1" y1="597.2" x2="165" y2="597.2" stroke="#9a9a9a" stroke-width="1" stroke-dasharray="4.5 2.2"/>
<line x1="165" y1="597.2" x2="165" y2="684.9" stroke="#9a9a9a" stroke-width="1" stroke-dasharray="4.5 2.2"/>
<line x1="47.1" y1="554.7" x2="223.6" y2="554.7" stroke="#9a9a9a" stroke-width="1" stroke-dasharray="4.5 2.2"/>
<line x1="223.6" y1="554.7" x2="223.6" y2="684.9" stroke="#9a9a9a" stroke-width="1" stroke-dasharray="4.5 2.2"/>
<line x1="47.1" y1="526.2" x2="263" y2="526.2" stroke="#9a9a9a" stroke-width="1" stroke-dasharray="4.5 2.2"/>
<line x1="263" y1="526.2" x2="263" y2="684.9" stroke="#9a9a9a" stroke-width="1" stroke-dasharray="4.5 2.2"/>
<line x1="47.1" y1="497.9" x2="301.5" y2="497.9" stroke="#9a9a9a" stroke-width="1" stroke-dasharray="4.5 2.2"/>
<line x1="301.5" y1="497.9" x2="301.5" y2="684.9" stroke="#9a9a9a" stroke-width="1" stroke-dasharray="4.5 2.2"/>
<line x1="47.1" y1="458.5" x2="354.9" y2="458.5" stroke="#9a9a9a" stroke-width="1" stroke-dasharray="4.5 2.2"/>
<line x1="354.9" y1="458.5" x2="354.9" y2="684.9" stroke="#9a9a9a" stroke-width="1" stroke-dasharray="4.5 2.2"/>
<line x1="47.1" y1="428.9" x2="394.4" y2="428.9" stroke="#9a9a9a" stroke-width="1" stroke-dasharray="4.5 2.2"/>
<line x1="394.4" y1="428.9" x2="394.4" y2="684.9" stroke="#9a9a9a" stroke-width="1" stroke-dasharray="4.5 2.2"/>
<line x1="47.1" y1="398.3" x2="436.1" y2="398.3" stroke="#9a9a9a" stroke-width="1" stroke-dasharray="4.5 2.2"/>
<line x1="436.1" y1="398.3" x2="436.1" y2="684.9" stroke="#9a9a9a" stroke-width="1" stroke-dasharray="4.5 2.2"/>
<line x1="279" y1="684.9" x2="279" y2="520.5" stroke="#939393" stroke-width="1.6"/>
<polygon points="279,515.5 281.8,521.7 279,521.08 276.2,521.7" fill="#939393"/>
<line x1="279" y1="513.8" x2="52.3" y2="513.8" stroke="#939393" stroke-width="1.6"/>
<polygon points="47.5,513.8 53.7,511 53.08,513.8 53.7,516.6" fill="#939393"/>
<line x1="105.4" y1="637.6" x2="105.4" y2="646" stroke="#9a9a9a" stroke-width="1.3"/>
<line x1="101.2" y1="641.2" x2="109.6" y2="642.4" stroke="#9a9a9a" stroke-width="1.3"/>
<line x1="133.8" y1="616.5" x2="133.8" y2="624.9" stroke="#9a9a9a" stroke-width="1.3"/>
<line x1="129.6" y1="620.1" x2="138" y2="621.3" stroke="#9a9a9a" stroke-width="1.3"/>
<line x1="164.7" y1="593.4" x2="164.7" y2="601.8" stroke="#9a9a9a" stroke-width="1.3"/>
<line x1="160.5" y1="597" x2="168.9" y2="598.2" stroke="#9a9a9a" stroke-width="1.3"/>
<line x1="312.1" y1="485.7" x2="312.1" y2="494.1" stroke="#9a9a9a" stroke-width="1.3"/>
<line x1="307.9" y1="489.3" x2="316.3" y2="490.5" stroke="#9a9a9a" stroke-width="1.3"/>
<line x1="357.9" y1="450.8" x2="357.9" y2="459.2" stroke="#9a9a9a" stroke-width="1.3"/>
<line x1="353.7" y1="454.4" x2="362.1" y2="455.6" stroke="#9a9a9a" stroke-width="1.3"/>
<line x1="410.2" y1="412.8" x2="410.2" y2="421.2" stroke="#9a9a9a" stroke-width="1.3"/>
<line x1="406" y1="416.4" x2="414.4" y2="417.6" stroke="#9a9a9a" stroke-width="1.3"/>
<line x1="445" y1="387.8" x2="445" y2="396.2" stroke="#9a9a9a" stroke-width="1.3"/>
<line x1="440.8" y1="391.4" x2="449.2" y2="392.6" stroke="#9a9a9a" stroke-width="1.3"/>
<line x1="180.1" y1="574.7" x2="180.1" y2="588.9" stroke="#1a1a1a" stroke-width="1.3"/>
<line x1="176.6" y1="574.7" x2="183.6" y2="574.7" stroke="#1a1a1a" stroke-width="1.3"/>
<line x1="176.6" y1="588.9" x2="183.6" y2="588.9" stroke="#1a1a1a" stroke-width="1.3"/>
<line x1="169.5" y1="587" x2="183.7" y2="587" stroke="#1a1a1a" stroke-width="1.3"/>
<line x1="169.5" y1="584" x2="169.5" y2="590" stroke="#1a1a1a" stroke-width="1.3"/>
<line x1="183.7" y1="584" x2="183.7" y2="590" stroke="#1a1a1a" stroke-width="1.3"/>
<line x1="195" y1="571" x2="195" y2="585.3" stroke="#1a1a1a" stroke-width="1.3"/>
<line x1="191.5" y1="571" x2="198.5" y2="571" stroke="#1a1a1a" stroke-width="1.3"/>
<line x1="191.5" y1="585.3" x2="198.5" y2="585.3" stroke="#1a1a1a" stroke-width="1.3"/>
<line x1="176.6" y1="573.5" x2="202.6" y2="573.5" stroke="#1a1a1a" stroke-width="1.3"/>
<line x1="176.6" y1="570.5" x2="176.6" y2="576.5" stroke="#1a1a1a" stroke-width="1.3"/>
<line x1="202.6" y1="570.5" x2="202.6" y2="576.5" stroke="#1a1a1a" stroke-width="1.3"/>
<line x1="230.3" y1="538" x2="230.3" y2="556.2" stroke="#1a1a1a" stroke-width="1.3"/>
<line x1="226.8" y1="538" x2="233.8" y2="538" stroke="#1a1a1a" stroke-width="1.3"/>
<line x1="226.8" y1="556.2" x2="233.8" y2="556.2" stroke="#1a1a1a" stroke-width="1.3"/>
<line x1="223.9" y1="553.4" x2="235.7" y2="553.4" stroke="#1a1a1a" stroke-width="1.3"/>
<line x1="223.9" y1="550.4" x2="223.9" y2="556.4" stroke="#1a1a1a" stroke-width="1.3"/>
<line x1="235.7" y1="550.4" x2="235.7" y2="556.4" stroke="#1a1a1a" stroke-width="1.3"/>
<line x1="247.6" y1="534.9" x2="247.6" y2="552.9" stroke="#1a1a1a" stroke-width="1.3"/>
<line x1="244.1" y1="534.9" x2="251.1" y2="534.9" stroke="#1a1a1a" stroke-width="1.3"/>
<line x1="244.1" y1="552.9" x2="251.1" y2="552.9" stroke="#1a1a1a" stroke-width="1.3"/>
<line x1="240.5" y1="536.8" x2="257" y2="536.8" stroke="#1a1a1a" stroke-width="1.3"/>
<line x1="240.5" y1="533.8" x2="240.5" y2="539.8" stroke="#1a1a1a" stroke-width="1.3"/>
<line x1="257" y1="533.8" x2="257" y2="539.8" stroke="#1a1a1a" stroke-width="1.3"/>
<line x1="268.9" y1="504.9" x2="268.9" y2="522.6" stroke="#1a1a1a" stroke-width="1.3"/>
<line x1="265.4" y1="504.9" x2="272.4" y2="504.9" stroke="#1a1a1a" stroke-width="1.3"/>
<line x1="265.4" y1="522.6" x2="272.4" y2="522.6" stroke="#1a1a1a" stroke-width="1.3"/>
<line x1="290.9" y1="497.8" x2="290.9" y2="521.4" stroke="#1a1a1a" stroke-width="1.3"/>
<line x1="287.4" y1="497.8" x2="294.4" y2="497.8" stroke="#1a1a1a" stroke-width="1.3"/>
<line x1="287.4" y1="521.4" x2="294.4" y2="521.4" stroke="#1a1a1a" stroke-width="1.3"/>
<line x1="301.5" y1="495.4" x2="301.5" y2="503.7" stroke="#1a1a1a" stroke-width="1.3"/>
<line x1="298" y1="495.4" x2="305" y2="495.4" stroke="#1a1a1a" stroke-width="1.3"/>
<line x1="298" y1="503.7" x2="305" y2="503.7" stroke="#1a1a1a" stroke-width="1.3"/>
<line x1="339" y1="463" x2="339" y2="471.8" stroke="#1a1a1a" stroke-width="1.3"/>
<line x1="335.5" y1="463" x2="342.5" y2="463" stroke="#1a1a1a" stroke-width="1.3"/>
<line x1="335.5" y1="471.8" x2="342.5" y2="471.8" stroke="#1a1a1a" stroke-width="1.3"/>
<line x1="378.9" y1="430" x2="378.9" y2="453.4" stroke="#1a1a1a" stroke-width="1.3"/>
<line x1="374.9" y1="430" x2="382.9" y2="430" stroke="#1a1a1a" stroke-width="1.3"/>
<line x1="374.9" y1="453.4" x2="382.9" y2="453.4" stroke="#1a1a1a" stroke-width="1.3"/>
<line x1="380" y1="433.5" x2="388" y2="433.5" stroke="#1a1a1a" stroke-width="1.3"/>
<line x1="380" y1="431" x2="380" y2="436" stroke="#1a1a1a" stroke-width="1.3"/>
<line x1="388" y1="431" x2="388" y2="436" stroke="#1a1a1a" stroke-width="1.3"/>
<line x1="391.3" y1="428.2" x2="391.3" y2="438.8" stroke="#1a1a1a" stroke-width="1.3"/>
<line x1="387.8" y1="428.2" x2="394.8" y2="428.2" stroke="#1a1a1a" stroke-width="1.3"/>
<line x1="387.8" y1="438.8" x2="394.8" y2="438.8" stroke="#1a1a1a" stroke-width="1.3"/>
<line x1="417.9" y1="403.6" x2="417.9" y2="414.6" stroke="#1a1a1a" stroke-width="1.3"/>
<line x1="413.9" y1="403.6" x2="421.9" y2="403.6" stroke="#1a1a1a" stroke-width="1.3"/>
<line x1="413.9" y1="414.6" x2="421.9" y2="414.6" stroke="#1a1a1a" stroke-width="1.3"/>
<line x1="428" y1="398.6" x2="428" y2="414" stroke="#1a1a1a" stroke-width="1.3"/>
<line x1="424.5" y1="398.6" x2="431.5" y2="398.6" stroke="#1a1a1a" stroke-width="1.3"/>
<line x1="424.5" y1="414" x2="431.5" y2="414" stroke="#1a1a1a" stroke-width="1.3"/>
<line x1="419.7" y1="412" x2="432.1" y2="412" stroke="#1a1a1a" stroke-width="1.3"/>
<line x1="419.7" y1="409" x2="419.7" y2="415" stroke="#1a1a1a" stroke-width="1.3"/>
<line x1="432.1" y1="409" x2="432.1" y2="415" stroke="#1a1a1a" stroke-width="1.3"/>
<polyline points="177.8,587 196.7,572.8 229.8,552.9 247.6,536.8 254.7,530.9 263,525 268.9,522.1 291.4,504.1 339,469.3 378.9,439.4 391.3,431.2 417.3,412 429.8,402.2 433.4,399.6" fill="none" stroke="#000" stroke-width="1.4" stroke-linejoin="round"/>
<line x1="174.1" y1="585.8" x2="181.5" y2="585.8" stroke="#000" stroke-width="1.3"/>
<line x1="174.1" y1="588.2" x2="181.5" y2="588.2" stroke="#000" stroke-width="1.3"/>
<line x1="177.8" y1="583.3" x2="177.8" y2="590.7" stroke="#000" stroke-width="1.4000000000000001"/>
<line x1="193" y1="571.6" x2="200.4" y2="571.6" stroke="#000" stroke-width="1.3"/>
<line x1="193" y1="574" x2="200.4" y2="574" stroke="#000" stroke-width="1.3"/>
<line x1="196.7" y1="569.1" x2="196.7" y2="576.5" stroke="#000" stroke-width="1.4000000000000001"/>
<line x1="226.1" y1="551.7" x2="233.5" y2="551.7" stroke="#000" stroke-width="1.3"/>
<line x1="226.1" y1="554.1" x2="233.5" y2="554.1" stroke="#000" stroke-width="1.3"/>
<line x1="229.8" y1="549.2" x2="229.8" y2="556.6" stroke="#000" stroke-width="1.4000000000000001"/>
<line x1="243.9" y1="535.6" x2="251.3" y2="535.6" stroke="#000" stroke-width="1.3"/>
<line x1="243.9" y1="538" x2="251.3" y2="538" stroke="#000" stroke-width="1.3"/>
<line x1="247.6" y1="533.1" x2="247.6" y2="540.5" stroke="#000" stroke-width="1.4000000000000001"/>
<line x1="251" y1="529.7" x2="258.4" y2="529.7" stroke="#000" stroke-width="1.3"/>
<line x1="251" y1="532.1" x2="258.4" y2="532.1" stroke="#000" stroke-width="1.3"/>
<line x1="254.7" y1="527.2" x2="254.7" y2="534.6" stroke="#000" stroke-width="1.4000000000000001"/>
<line x1="259.3" y1="523.8" x2="266.7" y2="523.8" stroke="#000" stroke-width="1.3"/>
<line x1="259.3" y1="526.2" x2="266.7" y2="526.2" stroke="#000" stroke-width="1.3"/>
<line x1="263" y1="521.3" x2="263" y2="528.7" stroke="#000" stroke-width="1.4000000000000001"/>
<line x1="265.2" y1="520.9" x2="272.6" y2="520.9" stroke="#000" stroke-width="1.3"/>
<line x1="265.2" y1="523.3" x2="272.6" y2="523.3" stroke="#000" stroke-width="1.3"/>
<line x1="268.9" y1="518.4" x2="268.9" y2="525.8" stroke="#000" stroke-width="1.4000000000000001"/>
<line x1="287.7" y1="502.9" x2="295.1" y2="502.9" stroke="#000" stroke-width="1.3"/>
<line x1="287.7" y1="505.3" x2="295.1" y2="505.3" stroke="#000" stroke-width="1.3"/>
<line x1="291.4" y1="500.4" x2="291.4" y2="507.8" stroke="#000" stroke-width="1.4000000000000001"/>
<line x1="335.3" y1="468.1" x2="342.7" y2="468.1" stroke="#000" stroke-width="1.3"/>
<line x1="335.3" y1="470.5" x2="342.7" y2="470.5" stroke="#000" stroke-width="1.3"/>
<line x1="339" y1="465.6" x2="339" y2="473" stroke="#000" stroke-width="1.4000000000000001"/>
<line x1="375.2" y1="438.2" x2="382.6" y2="438.2" stroke="#000" stroke-width="1.3"/>
<line x1="375.2" y1="440.6" x2="382.6" y2="440.6" stroke="#000" stroke-width="1.3"/>
<line x1="378.9" y1="435.7" x2="378.9" y2="443.1" stroke="#000" stroke-width="1.4000000000000001"/>
<line x1="387.6" y1="430" x2="395" y2="430" stroke="#000" stroke-width="1.3"/>
<line x1="387.6" y1="432.4" x2="395" y2="432.4" stroke="#000" stroke-width="1.3"/>
<line x1="391.3" y1="427.5" x2="391.3" y2="434.9" stroke="#000" stroke-width="1.4000000000000001"/>
<line x1="413.6" y1="410.8" x2="421" y2="410.8" stroke="#000" stroke-width="1.3"/>
<line x1="413.6" y1="413.2" x2="421" y2="413.2" stroke="#000" stroke-width="1.3"/>
<line x1="417.3" y1="408.3" x2="417.3" y2="415.7" stroke="#000" stroke-width="1.4000000000000001"/>
<line x1="426.1" y1="401" x2="433.5" y2="401" stroke="#000" stroke-width="1.3"/>
<line x1="426.1" y1="403.4" x2="433.5" y2="403.4" stroke="#000" stroke-width="1.3"/>
<line x1="429.8" y1="398.5" x2="429.8" y2="405.9" stroke="#000" stroke-width="1.4000000000000001"/>
<line x1="429.7" y1="398.4" x2="437.1" y2="398.4" stroke="#000" stroke-width="1.3"/>
<line x1="429.7" y1="400.8" x2="437.1" y2="400.8" stroke="#000" stroke-width="1.3"/>
<line x1="433.4" y1="395.9" x2="433.4" y2="403.3" stroke="#000" stroke-width="1.4000000000000001"/>
<line x1="518.2" y1="504.7" x2="670.9" y2="392.8" stroke="#8c8c8c" stroke-width="1.3" stroke-dasharray="9 3.6"/>
<line x1="519.2" y1="479" x2="553.4" y2="479" stroke="#9a9a9a" stroke-width="1" stroke-dasharray="4.5 2.2"/>
<line x1="553.4" y1="479" x2="553.4" y2="504.8" stroke="#9a9a9a" stroke-width="1" stroke-dasharray="4.5 2.2"/>
<line x1="519.2" y1="434.4" x2="613.6" y2="434.4" stroke="#9a9a9a" stroke-width="1" stroke-dasharray="4.5 2.2"/>
<line x1="613.6" y1="434.4" x2="613.6" y2="504.8" stroke="#9a9a9a" stroke-width="1" stroke-dasharray="4.5 2.2"/>
<line x1="519.2" y1="399.8" x2="660.1" y2="399.8" stroke="#9a9a9a" stroke-width="1" stroke-dasharray="4.5 2.2"/>
<line x1="660.1" y1="399.8" x2="660.1" y2="504.8" stroke="#9a9a9a" stroke-width="1" stroke-dasharray="4.5 2.2"/>
<line x1="588.2" y1="449.5" x2="588.2" y2="457.9" stroke="#9a9a9a" stroke-width="1.3"/>
<line x1="584" y1="453.1" x2="592.4" y2="454.3" stroke="#9a9a9a" stroke-width="1.3"/>
<line x1="638.7" y1="411.3" x2="638.7" y2="419.7" stroke="#9a9a9a" stroke-width="1.3"/>
<line x1="634.5" y1="414.9" x2="642.9" y2="416.1" stroke="#9a9a9a" stroke-width="1.3"/>
<line x1="597.5" y1="436.6" x2="612.7" y2="436.6" stroke="#1a1a1a" stroke-width="1.3"/>
<line x1="597.5" y1="433.6" x2="597.5" y2="439.6" stroke="#1a1a1a" stroke-width="1.3"/>
<line x1="612.7" y1="433.6" x2="612.7" y2="439.6" stroke="#1a1a1a" stroke-width="1.3"/>
<line x1="612.7" y1="432.5" x2="612.7" y2="443.1" stroke="#1a1a1a" stroke-width="1.3"/>
<line x1="609.7" y1="432.5" x2="615.7" y2="432.5" stroke="#1a1a1a" stroke-width="1.3"/>
<line x1="609.7" y1="443.1" x2="615.7" y2="443.1" stroke="#1a1a1a" stroke-width="1.3"/>
<line x1="625.7" y1="426" x2="639.2" y2="426" stroke="#1a1a1a" stroke-width="1.3"/>
<line x1="625.7" y1="423" x2="625.7" y2="429" stroke="#1a1a1a" stroke-width="1.3"/>
<line x1="639.2" y1="423" x2="639.2" y2="429" stroke="#1a1a1a" stroke-width="1.3"/>
<polyline points="563.8,470 612.7,435 625.7,426.9 642.8,413.8" fill="none" stroke="#000" stroke-width="1.4" stroke-linejoin="round"/>
<line x1="560.1" y1="468.8" x2="567.5" y2="468.8" stroke="#000" stroke-width="1.3"/>
<line x1="560.1" y1="471.2" x2="567.5" y2="471.2" stroke="#000" stroke-width="1.3"/>
<line x1="563.8" y1="466.3" x2="563.8" y2="473.7" stroke="#000" stroke-width="1.4000000000000001"/>
<line x1="609" y1="433.8" x2="616.4" y2="433.8" stroke="#000" stroke-width="1.3"/>
<line x1="609" y1="436.2" x2="616.4" y2="436.2" stroke="#000" stroke-width="1.3"/>
<line x1="612.7" y1="431.3" x2="612.7" y2="438.7" stroke="#000" stroke-width="1.4000000000000001"/>
<line x1="622" y1="425.7" x2="629.4" y2="425.7" stroke="#000" stroke-width="1.3"/>
<line x1="622" y1="428.1" x2="629.4" y2="428.1" stroke="#000" stroke-width="1.3"/>
<line x1="625.7" y1="423.2" x2="625.7" y2="430.6" stroke="#000" stroke-width="1.4000000000000001"/>
<line x1="639.1" y1="412.6" x2="646.5" y2="412.6" stroke="#000" stroke-width="1.3"/>
<line x1="639.1" y1="415" x2="646.5" y2="415" stroke="#000" stroke-width="1.3"/>
<line x1="642.8" y1="410.1" x2="642.8" y2="417.5" stroke="#000" stroke-width="1.4000000000000001"/>
<ellipse cx="625.7" cy="426.9" rx="2.6" ry="3.2" fill="#000"/>
<line x1="518.2" y1="687.4" x2="670.8" y2="575.6" stroke="#8c8c8c" stroke-width="1.3" stroke-dasharray="9 3.6"/>
<line x1="519.2" y1="661.5" x2="553.1" y2="661.5" stroke="#9a9a9a" stroke-width="1" stroke-dasharray="4.5 2.2"/>
<line x1="553.1" y1="661.5" x2="553.1" y2="687.6" stroke="#9a9a9a" stroke-width="1" stroke-dasharray="4.5 2.2"/>
<line x1="519.2" y1="617.3" x2="613.4" y2="617.3" stroke="#9a9a9a" stroke-width="1" stroke-dasharray="4.5 2.2"/>
<line x1="613.4" y1="617.3" x2="613.4" y2="687.6" stroke="#9a9a9a" stroke-width="1" stroke-dasharray="4.5 2.2"/>
<line x1="519.2" y1="582.5" x2="660.7" y2="582.5" stroke="#9a9a9a" stroke-width="1" stroke-dasharray="4.5 2.2"/>
<line x1="660.7" y1="582.5" x2="660.7" y2="687.6" stroke="#9a9a9a" stroke-width="1" stroke-dasharray="4.5 2.2"/>
<line x1="566.2" y1="647.9" x2="566.2" y2="656.3" stroke="#9a9a9a" stroke-width="1.3"/>
<line x1="562" y1="651.5" x2="570.4" y2="652.7" stroke="#9a9a9a" stroke-width="1.3"/>
<line x1="636.6" y1="601" x2="636.6" y2="609.4" stroke="#9a9a9a" stroke-width="1.3"/>
<line x1="632.4" y1="604.6" x2="640.8" y2="605.8" stroke="#9a9a9a" stroke-width="1.3"/>
<line x1="660.7" y1="576.9" x2="660.7" y2="585.3" stroke="#9a9a9a" stroke-width="1.3"/>
<line x1="656.5" y1="580.5" x2="664.9" y2="581.7" stroke="#9a9a9a" stroke-width="1.3"/>
<line x1="632" y1="601.8" x2="632" y2="610.2" stroke="#9a9a9a" stroke-width="1.3"/>
<line x1="627.8" y1="605.4" x2="636.2" y2="606.6" stroke="#9a9a9a" stroke-width="1.3"/>
<polyline points="552.5,662.1 590.3,634 626.5,608.2 634.5,604.2 642.6,596.2 658.7,583.1" fill="none" stroke="#000" stroke-width="1.4" stroke-linejoin="round"/>
<line x1="548.6" y1="660.9" x2="556.4" y2="660.9" stroke="#000" stroke-width="1.3"/>
<line x1="548.6" y1="663.3" x2="556.4" y2="663.3" stroke="#000" stroke-width="1.3"/>
<line x1="552.5" y1="658.2" x2="552.5" y2="666" stroke="#000" stroke-width="1.4000000000000001"/>
<line x1="552.5" y1="657.9" x2="552.5" y2="666.3" stroke="#000" stroke-width="1.3"/>
<line x1="548.3" y1="661.5" x2="556.7" y2="662.7" stroke="#000" stroke-width="1.3"/>
<line x1="586.4" y1="632.8" x2="594.2" y2="632.8" stroke="#000" stroke-width="1.3"/>
<line x1="586.4" y1="635.2" x2="594.2" y2="635.2" stroke="#000" stroke-width="1.3"/>
<line x1="590.3" y1="630.1" x2="590.3" y2="637.9" stroke="#000" stroke-width="1.4000000000000001"/>
<line x1="590.3" y1="629.8" x2="590.3" y2="638.2" stroke="#000" stroke-width="1.3"/>
<line x1="586.1" y1="633.4" x2="594.5" y2="634.6" stroke="#000" stroke-width="1.3"/>
<line x1="622.6" y1="607" x2="630.4" y2="607" stroke="#000" stroke-width="1.3"/>
<line x1="622.6" y1="609.4" x2="630.4" y2="609.4" stroke="#000" stroke-width="1.3"/>
<line x1="626.5" y1="604.3" x2="626.5" y2="612.1" stroke="#000" stroke-width="1.4000000000000001"/>
<line x1="626.5" y1="604" x2="626.5" y2="612.4" stroke="#000" stroke-width="1.3"/>
<line x1="622.3" y1="607.6" x2="630.7" y2="608.8" stroke="#000" stroke-width="1.3"/>
<line x1="630.6" y1="603" x2="638.4" y2="603" stroke="#000" stroke-width="1.3"/>
<line x1="630.6" y1="605.4" x2="638.4" y2="605.4" stroke="#000" stroke-width="1.3"/>
<line x1="634.5" y1="600.3" x2="634.5" y2="608.1" stroke="#000" stroke-width="1.4000000000000001"/>
<line x1="634.5" y1="600" x2="634.5" y2="608.4" stroke="#000" stroke-width="1.3"/>
<line x1="630.3" y1="603.6" x2="638.7" y2="604.8" stroke="#000" stroke-width="1.3"/>
<line x1="638.7" y1="595" x2="646.5" y2="595" stroke="#000" stroke-width="1.3"/>
<line x1="638.7" y1="597.4" x2="646.5" y2="597.4" stroke="#000" stroke-width="1.3"/>
<line x1="642.6" y1="592.3" x2="642.6" y2="600.1" stroke="#000" stroke-width="1.4000000000000001"/>
<line x1="642.6" y1="592" x2="642.6" y2="600.4" stroke="#000" stroke-width="1.3"/>
<line x1="638.4" y1="595.6" x2="646.8" y2="596.8" stroke="#000" stroke-width="1.3"/>
<line x1="654.8" y1="581.9" x2="662.6" y2="581.9" stroke="#000" stroke-width="1.3"/>
<line x1="654.8" y1="584.3" x2="662.6" y2="584.3" stroke="#000" stroke-width="1.3"/>
<line x1="658.7" y1="579.2" x2="658.7" y2="587" stroke="#000" stroke-width="1.4000000000000001"/>
<line x1="658.7" y1="578.9" x2="658.7" y2="587.3" stroke="#000" stroke-width="1.3"/>
<line x1="654.5" y1="582.5" x2="662.9" y2="583.7" stroke="#000" stroke-width="1.3"/>
<line x1="548.5" y1="662.1" x2="556.5" y2="662.1" stroke="#000" stroke-width="1.8"/>
<line x1="552.5" y1="658.1" x2="552.5" y2="666.1" stroke="#000" stroke-width="1.8"/>
<line x1="586.4" y1="630.8" x2="594.2" y2="630.8" stroke="#000" stroke-width="1.4"/>
<line x1="586.4" y1="633.2" x2="594.2" y2="633.2" stroke="#000" stroke-width="1.4"/>
<line x1="590.3" y1="628.1" x2="590.3" y2="635.9" stroke="#000" stroke-width="1.5"/>
<line x1="641.1" y1="590.8" x2="648.9" y2="590.8" stroke="#000" stroke-width="1.4"/>
<line x1="641.1" y1="593.2" x2="648.9" y2="593.2" stroke="#000" stroke-width="1.4"/>
<line x1="645" y1="588.1" x2="645" y2="595.9" stroke="#000" stroke-width="1.5"/>
<rect x="361.41" y="12.18" width="53.39" height="12.42" fill="#fff"/>
<rect x="359.01" y="24.28" width="53.39" height="12.42" fill="#fff"/>
<rect x="353" y="48" width="35.3" height="28" fill="#fff"/>
<rect x="402.71" y="94.28" width="59.69" height="12.42" fill="#fff"/>
<rect x="408.48" y="107.98" width="52.82" height="12.42" fill="#fff"/>
<rect x="398.31" y="122.68" width="59.69" height="12.42" fill="#fff"/>
<rect x="341.88" y="124.88" width="52.82" height="12.42" fill="#fff"/>
<rect x="221.88" y="110.48" width="52.82" height="12.42" fill="#fff"/>
<rect x="292.31" y="161.48" width="59.69" height="12.42" fill="#fff"/>
<rect x="251.11" y="189.38" width="59.69" height="12.42" fill="#fff"/>
<rect x="231.84" y="202.68" width="53.96" height="12.42" fill="#fff"/>
<rect x="206.88" y="218.68" width="58.92" height="12.42" fill="#fff"/>
<rect x="187.57" y="228.18" width="48.23" height="12.42" fill="#fff"/>
<rect x="163.27" y="246.98" width="48.23" height="12.42" fill="#fff"/>
<rect x="130.74" y="192.28" width="41.36" height="12.42" fill="#fff"/>
<line x1="416.7" y1="12.8" x2="416.7" y2="33.54" stroke="#939393" stroke-width="1.6"/>
<polygon points="416.7,38.5 413.9,32.3 416.7,32.92 419.5,32.3" fill="#939393"/>
<line x1="414.9" y1="20.4" x2="414.9" y2="42.34" stroke="#939393" stroke-width="1.6"/>
<polygon points="414.9,47.3 412.1,41.1 414.9,41.72 417.7,41.1" fill="#939393"/>
<line x1="388" y1="50.5" x2="388" y2="74.24" stroke="#939393" stroke-width="1.6"/>
<polygon points="388,79.2 385.2,73 388,73.62 390.8,73" fill="#939393"/>
<line x1="462" y1="107.7" x2="402.66" y2="107.7" stroke="#939393" stroke-width="1.6"/>
<polygon points="397.7,107.7 403.9,104.9 403.28,107.7 403.9,110.5" fill="#939393"/>
<line x1="460" y1="117.2" x2="379.36" y2="117.2" stroke="#939393" stroke-width="1.6"/>
<polygon points="374.4,117.2 380.6,114.4 379.98,117.2 380.6,120" fill="#939393"/>
<line x1="458" y1="121" x2="372.66" y2="121" stroke="#939393" stroke-width="1.6"/>
<polygon points="367.7,121 373.9,118.2 373.28,121 373.9,123.8" fill="#939393"/>
<line x1="393.2" y1="123.2" x2="340.46" y2="123.2" stroke="#939393" stroke-width="1.6"/>
<polygon points="335.5,123.2 341.7,120.4 341.08,123.2 341.7,126" fill="#939393"/>
<line x1="275.5" y1="106.6" x2="275.5" y2="124.04" stroke="#939393" stroke-width="1.6"/>
<polygon points="275.5,129 272.7,122.8 275.5,123.42 278.3,122.8" fill="#939393"/>
<line x1="352" y1="160.6" x2="287.06" y2="160.6" stroke="#939393" stroke-width="1.6"/>
<polygon points="282.1,160.6 288.3,157.8 287.68,160.6 288.3,163.4" fill="#939393"/>
<line x1="310.9" y1="188.2" x2="250.36" y2="188.2" stroke="#939393" stroke-width="1.6"/>
<polygon points="245.4,188.2 251.6,185.4 250.98,188.2 251.6,191" fill="#939393"/>
<line x1="287.6" y1="201" x2="229.36" y2="201" stroke="#939393" stroke-width="1.6"/>
<polygon points="224.4,201 230.6,198.2 229.98,201 230.6,203.8" fill="#939393"/>
<line x1="265.4" y1="216.6" x2="205.96" y2="216.6" stroke="#939393" stroke-width="1.6"/>
<polygon points="201,216.6 207.2,213.8 206.58,216.6 207.2,219.4" fill="#939393"/>
<line x1="231" y1="239.4" x2="184.96" y2="239.4" stroke="#939393" stroke-width="1.6"/>
<polygon points="180,239.4 186.2,236.6 185.58,239.4 186.2,242.2" fill="#939393"/>
<line x1="209" y1="244.5" x2="161.46" y2="244.5" stroke="#939393" stroke-width="1.6"/>
<polygon points="156.5,244.5 162.7,241.7 162.08,244.5 162.7,247.3" fill="#939393"/>
<line x1="174.6" y1="190" x2="174.6" y2="205.04" stroke="#939393" stroke-width="1.6"/>
<polygon points="174.6,210 171.8,203.8 174.6,204.42 177.4,203.8" fill="#939393"/>
<line x1="632.5" y1="14.4" x2="632.5" y2="25.74" stroke="#939393" stroke-width="1.6"/>
<polygon points="632.5,30.7 629.7,24.5 632.5,25.12 635.3,24.5" fill="#939393"/>
<line x1="590.8" y1="38.8" x2="590.8" y2="59.04" stroke="#939393" stroke-width="1.6"/>
<polygon points="590.8,64 588,57.8 590.8,58.42 593.6,57.8" fill="#939393"/>
<line x1="575.5" y1="58" x2="575.5" y2="71.04" stroke="#939393" stroke-width="1.6"/>
<polygon points="575.5,76 572.7,69.8 575.5,70.42 578.3,69.8" fill="#939393"/>
<line x1="645.8" y1="81.7" x2="598.66" y2="81.7" stroke="#939393" stroke-width="1.6"/>
<polygon points="593.7,81.7 599.9,78.9 599.28,81.7 599.9,84.5" fill="#939393"/>
<line x1="661" y1="188.1" x2="661" y2="196.04" stroke="#939393" stroke-width="1.6"/>
<polygon points="661,201 658.2,194.8 661,195.42 663.8,194.8" fill="#939393"/>
<line x1="658.6" y1="192" x2="658.6" y2="201.54" stroke="#939393" stroke-width="1.6"/>
<polygon points="658.6,206.5 655.8,200.3 658.6,200.92 661.4,200.3" fill="#939393"/>
<line x1="616.3" y1="215.6" x2="616.3" y2="233.54" stroke="#939393" stroke-width="1.6"/>
<polygon points="616.3,238.5 613.5,232.3 616.3,232.92 619.1,232.3" fill="#939393"/>
<line x1="581.8" y1="246.6" x2="581.8" y2="258.54" stroke="#939393" stroke-width="1.6"/>
<polygon points="581.8,263.5 579,257.3 581.8,257.92 584.6,257.3" fill="#939393"/>
<line x1="670.4" y1="244.6" x2="642.36" y2="244.6" stroke="#939393" stroke-width="1.6"/>
<polygon points="637.4,244.6 643.6,241.8 642.98,244.6 643.6,247.4" fill="#939393"/>
<line x1="654.7" y1="270.9" x2="610.26" y2="270.9" stroke="#939393" stroke-width="1.6"/>
<polygon points="605.3,270.9 611.5,268.1 610.88,270.9 611.5,273.7" fill="#939393"/>
<text x="413.3" y="20.8" font-size="10.3" text-anchor="end" fill="#1e1e1e" stroke="#1e1e1e" stroke-width="0.22">Base Sn3b</text>
<text x="410.9" y="32.9" font-size="10.3" text-anchor="end" fill="#1e1e1e" stroke="#1e1e1e" stroke-width="0.22">Base Sn3a</text>
<text x="366.9" y="59" font-size="10.3" text-anchor="middle" fill="#1e1e1e" stroke="#1e1e1e" stroke-width="0.22">Top</text>
<text x="369.7" y="70.6" font-size="10.3" text-anchor="middle" fill="#1e1e1e" stroke="#1e1e1e" stroke-width="0.22">Hn26b</text>
<text x="460.9" y="102.9" font-size="10.3" text-anchor="end" fill="#1e1e1e" stroke="#1e1e1e" stroke-width="0.22">Base Hn26a</text>
<text x="459.8" y="116.6" font-size="10.3" text-anchor="end" fill="#1e1e1e" stroke="#1e1e1e" stroke-width="0.22">Top Hn24a</text>
<text x="456.5" y="131.3" font-size="10.3" text-anchor="end" fill="#1e1e1e" stroke="#1e1e1e" stroke-width="0.22">Base Hn24a</text>
<text x="393.2" y="133.5" font-size="10.3" text-anchor="end" fill="#1e1e1e" stroke="#1e1e1e" stroke-width="0.22">Top Hn23a</text>
<text x="273.2" y="119.1" font-size="10.3" text-anchor="end" fill="#1e1e1e" stroke="#1e1e1e" stroke-width="0.22">Top Hn18b</text>
<text x="350.5" y="170.1" font-size="10.3" text-anchor="end" fill="#1e1e1e" stroke="#1e1e1e" stroke-width="0.22">Base Hn17a</text>
<text x="309.3" y="198" font-size="10.3" text-anchor="end" fill="#1e1e1e" stroke="#1e1e1e" stroke-width="0.22">Base Hn14a</text>
<text x="284.3" y="211.3" font-size="10.3" text-anchor="end" fill="#1e1e1e" stroke="#1e1e1e" stroke-width="0.22">Base Hn12</text>
<text x="264.3" y="227.3" font-size="10.3" text-anchor="end" fill="#1e1e1e" stroke="#1e1e1e" stroke-width="0.22">Base Hn11a</text>
<text x="234.3" y="236.8" font-size="10.3" text-anchor="end" fill="#1e1e1e" stroke="#1e1e1e" stroke-width="0.22">Base Hn7</text>
<text x="210" y="255.6" font-size="10.3" text-anchor="end" fill="#1e1e1e" stroke="#1e1e1e" stroke-width="0.22">Base Hn5</text>
<text x="170.6" y="200.9" font-size="10.3" text-anchor="end" fill="#1e1e1e" stroke="#1e1e1e" stroke-width="0.22">Top Hn7</text>
<text x="629.2" y="30.2" font-size="10.3" text-anchor="end" fill="#1e1e1e" stroke="#1e1e1e" stroke-width="0.22">Base Hn12</text>
<text x="588.4" y="50.3" font-size="10.3" text-anchor="end" fill="#1e1e1e" stroke="#1e1e1e" stroke-width="0.22">Top Hn6</text>
<text x="573.4" y="69.8" font-size="10.3" text-anchor="end" fill="#1e1e1e" stroke="#1e1e1e" stroke-width="0.22">Base Hn3</text>
<text x="644.6" y="91.7" font-size="10.3" text-anchor="end" fill="#1e1e1e" stroke="#1e1e1e" stroke-width="0.22">Base Hn5</text>
<text x="655.5" y="196.4" font-size="10.3" text-anchor="end" fill="#1e1e1e" stroke="#1e1e1e" stroke-width="0.22">Base Hn14a</text>
<text x="655.5" y="207.1" font-size="10.3" text-anchor="end" fill="#1e1e1e" stroke="#1e1e1e" stroke-width="0.22">Top Hn13b</text>
<text x="614.2" y="229.7" font-size="10.3" text-anchor="end" fill="#1e1e1e" stroke="#1e1e1e" stroke-width="0.22">Top Hn7</text>
<text x="577.7" y="257.2" font-size="10.3" text-anchor="end" fill="#1e1e1e" stroke="#1e1e1e" stroke-width="0.22">Base Hn4</text>
<text x="671.6" y="255.2" font-size="10.3" text-anchor="end" fill="#1e1e1e" stroke="#1e1e1e" stroke-width="0.22">Top Hn10</text>
<text x="655.5" y="281.9" font-size="10.3" text-anchor="end" fill="#1e1e1e" stroke="#1e1e1e" stroke-width="0.22">Base Hn5</text>
</svg></body></html>
